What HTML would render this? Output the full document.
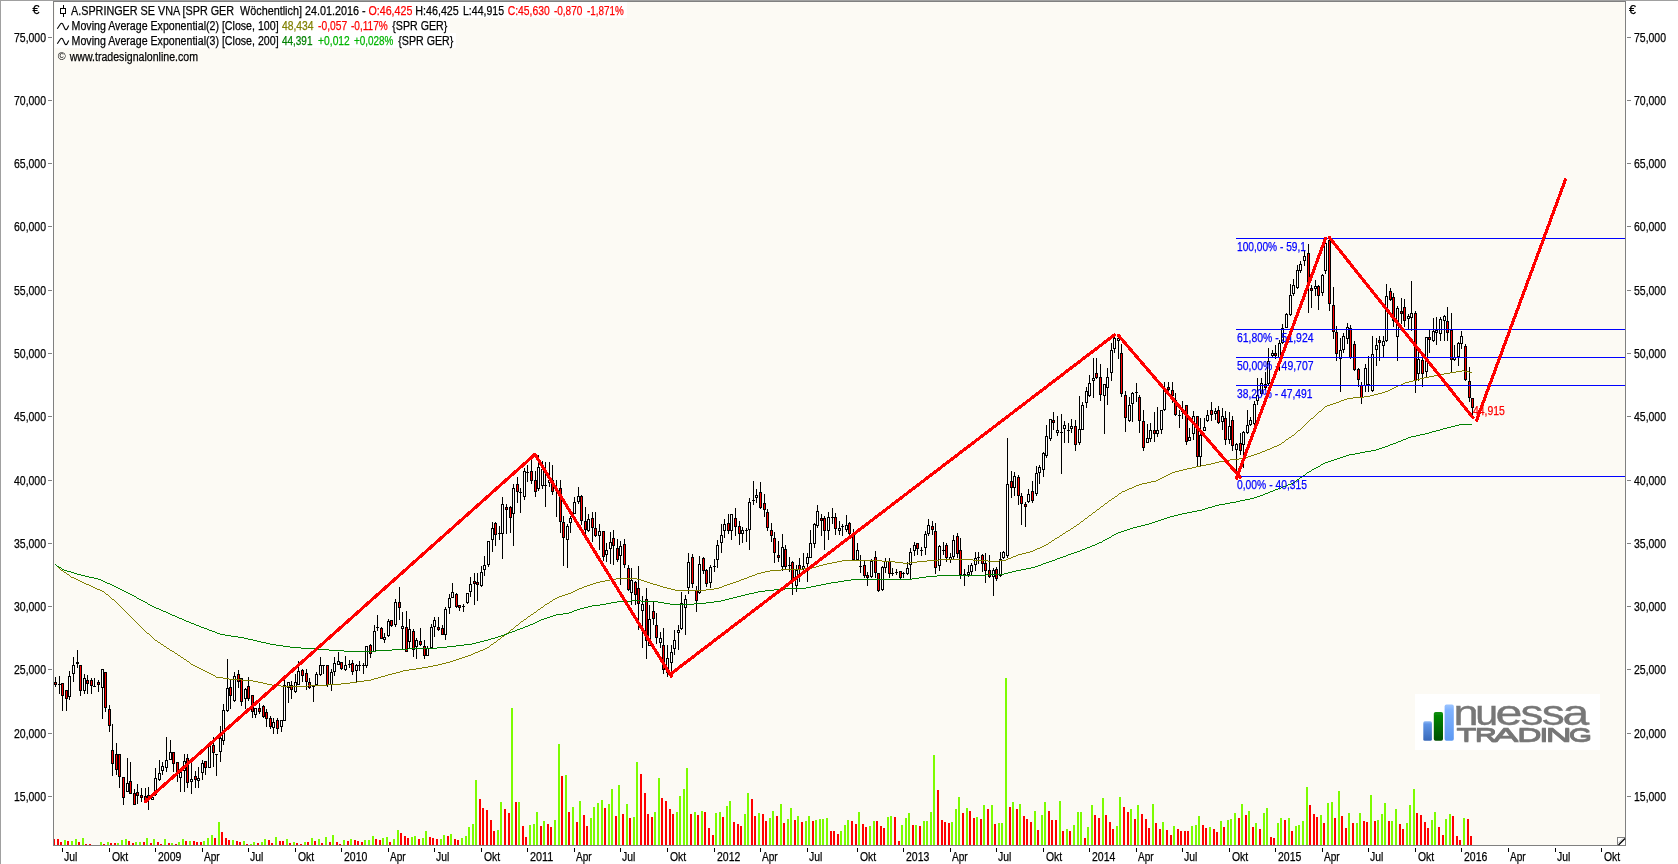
<!DOCTYPE html><html><head><meta charset="utf-8"><title>A.SPRINGER SE VNA</title>
<style>html,body{margin:0;padding:0;background:#fff;}body{width:1678px;height:864px;overflow:hidden;}svg{display:block;}text{font-family:"Liberation Sans",sans-serif;opacity:0.999;}</style></head><body>
<svg width="1678" height="864" viewBox="0 0 1678 864">
<defs>
<linearGradient id="gb1" x1="0" y1="0" x2="0" y2="1"><stop offset="0" stop-color="#8db8f5"/><stop offset="0.15" stop-color="#5f94e6"/><stop offset="1" stop-color="#3768b8"/></linearGradient>
<linearGradient id="gg" x1="0" y1="0" x2="0" y2="1"><stop offset="0" stop-color="#109010"/><stop offset="0.2" stop-color="#008000"/><stop offset="1" stop-color="#004f00"/></linearGradient>
<linearGradient id="gb2" x1="0" y1="0" x2="0" y2="1"><stop offset="0" stop-color="#9cc4ff"/><stop offset="0.15" stop-color="#7fb2ff"/><stop offset="1" stop-color="#5c98f2"/></linearGradient>
<filter id="bl" x="-5%" y="-10%" width="110%" height="120%"><feGaussianBlur stdDeviation="0.45"/></filter>
<clipPath id="pc"><rect x="54" y="2" width="1571" height="843"/></clipPath>
</defs>
<rect x="0" y="0" width="1678" height="864" fill="#ffffff"/>
<g shape-rendering="crispEdges">
<rect x="0" y="0" width="1678" height="1" fill="#a0a0a0"/>
<rect x="0" y="0" width="1" height="864" fill="#a0a0a0"/>
<rect x="53" y="1" width="1573" height="845" fill="#808080"/>
<rect x="54" y="2" width="1571" height="843" fill="#fcfaf4"/>
<rect x="55" y="2" width="572" height="16" fill="#fff"/>
<rect x="55" y="18" width="395" height="15" fill="#fff"/>
<rect x="55" y="33" width="401" height="15" fill="#fff"/>
<rect x="1617" y="837" width="9" height="9" fill="#808080"/><rect x="1618" y="838" width="7" height="7" fill="#fff"/>
</g>
<path d="M1618.5 845 L1625 838.5" stroke="#000" stroke-width="1.2" fill="none"/>
<path d="M1618.5 843 L1623 838.5" stroke="#b0b0b0" stroke-width="1" fill="none"/>
<g clip-path="url(#pc)">
<g shape-rendering="crispEdges">
<rect x="53" y="839" width="2" height="6" fill="#ff0000"/>
<rect x="57" y="839" width="2" height="6" fill="#ff0000"/>
<rect x="60" y="842" width="2" height="3" fill="#ff0000"/>
<rect x="64" y="840" width="2" height="5" fill="#7cfc00"/>
<rect x="67" y="841" width="2" height="4" fill="#ff0000"/>
<rect x="71" y="841" width="2" height="4" fill="#7cfc00"/>
<rect x="75" y="839" width="2" height="6" fill="#7cfc00"/>
<rect x="78" y="842" width="2" height="3" fill="#ff0000"/>
<rect x="82" y="838" width="2" height="7" fill="#7cfc00"/>
<rect x="85" y="844" width="2" height="1" fill="#ff0000"/>
<rect x="89" y="844" width="2" height="1" fill="#ff0000"/>
<rect x="100" y="842" width="2" height="3" fill="#7cfc00"/>
<rect x="103" y="844" width="2" height="1" fill="#ff0000"/>
<rect x="107" y="842" width="2" height="3" fill="#7cfc00"/>
<rect x="110" y="843" width="2" height="2" fill="#ff0000"/>
<rect x="114" y="843" width="2" height="2" fill="#ff0000"/>
<rect x="117" y="843" width="2" height="2" fill="#7cfc00"/>
<rect x="121" y="840" width="2" height="5" fill="#7cfc00"/>
<rect x="125" y="839" width="2" height="6" fill="#7cfc00"/>
<rect x="128" y="841" width="2" height="4" fill="#ff0000"/>
<rect x="132" y="843" width="2" height="2" fill="#ff0000"/>
<rect x="135" y="842" width="2" height="3" fill="#7cfc00"/>
<rect x="139" y="842" width="2" height="3" fill="#7cfc00"/>
<rect x="143" y="842" width="2" height="3" fill="#ff0000"/>
<rect x="146" y="838" width="2" height="7" fill="#7cfc00"/>
<rect x="150" y="843" width="2" height="2" fill="#ff0000"/>
<rect x="153" y="839" width="2" height="6" fill="#7cfc00"/>
<rect x="157" y="842" width="2" height="3" fill="#ff0000"/>
<rect x="160" y="844" width="2" height="1" fill="#ff0000"/>
<rect x="164" y="839" width="2" height="6" fill="#7cfc00"/>
<rect x="168" y="843" width="2" height="2" fill="#ff0000"/>
<rect x="171" y="843" width="2" height="2" fill="#7cfc00"/>
<rect x="175" y="844" width="2" height="1" fill="#ff0000"/>
<rect x="178" y="842" width="2" height="3" fill="#7cfc00"/>
<rect x="182" y="839" width="2" height="6" fill="#7cfc00"/>
<rect x="185" y="841" width="2" height="4" fill="#ff0000"/>
<rect x="189" y="841" width="2" height="4" fill="#7cfc00"/>
<rect x="193" y="841" width="2" height="4" fill="#ff0000"/>
<rect x="196" y="842" width="2" height="3" fill="#ff0000"/>
<rect x="200" y="842" width="2" height="3" fill="#ff0000"/>
<rect x="203" y="841" width="2" height="4" fill="#7cfc00"/>
<rect x="207" y="838" width="2" height="7" fill="#7cfc00"/>
<rect x="211" y="835" width="2" height="10" fill="#7cfc00"/>
<rect x="214" y="838" width="2" height="7" fill="#ff0000"/>
<rect x="218" y="822" width="2" height="23" fill="#7cfc00"/>
<rect x="221" y="832" width="2" height="13" fill="#ff0000"/>
<rect x="225" y="838" width="2" height="7" fill="#ff0000"/>
<rect x="228" y="840" width="2" height="5" fill="#ff0000"/>
<rect x="232" y="840" width="2" height="5" fill="#7cfc00"/>
<rect x="236" y="841" width="2" height="4" fill="#ff0000"/>
<rect x="239" y="842" width="2" height="3" fill="#ff0000"/>
<rect x="243" y="841" width="2" height="4" fill="#7cfc00"/>
<rect x="246" y="844" width="2" height="1" fill="#ff0000"/>
<rect x="250" y="844" width="2" height="1" fill="#7cfc00"/>
<rect x="253" y="842" width="2" height="3" fill="#7cfc00"/>
<rect x="257" y="843" width="2" height="2" fill="#ff0000"/>
<rect x="261" y="842" width="2" height="3" fill="#7cfc00"/>
<rect x="264" y="839" width="2" height="6" fill="#7cfc00"/>
<rect x="268" y="840" width="2" height="5" fill="#ff0000"/>
<rect x="271" y="843" width="2" height="2" fill="#ff0000"/>
<rect x="275" y="837" width="2" height="8" fill="#7cfc00"/>
<rect x="279" y="841" width="2" height="4" fill="#ff0000"/>
<rect x="282" y="841" width="2" height="4" fill="#ff0000"/>
<rect x="286" y="839" width="2" height="6" fill="#7cfc00"/>
<rect x="289" y="843" width="2" height="2" fill="#ff0000"/>
<rect x="293" y="842" width="2" height="3" fill="#7cfc00"/>
<rect x="296" y="843" width="2" height="2" fill="#ff0000"/>
<rect x="300" y="844" width="2" height="1" fill="#ff0000"/>
<rect x="304" y="842" width="2" height="3" fill="#7cfc00"/>
<rect x="307" y="842" width="2" height="3" fill="#ff0000"/>
<rect x="311" y="838" width="2" height="7" fill="#7cfc00"/>
<rect x="314" y="841" width="2" height="4" fill="#ff0000"/>
<rect x="318" y="839" width="2" height="6" fill="#7cfc00"/>
<rect x="321" y="843" width="2" height="2" fill="#ff0000"/>
<rect x="325" y="837" width="2" height="8" fill="#7cfc00"/>
<rect x="329" y="842" width="2" height="3" fill="#ff0000"/>
<rect x="332" y="835" width="2" height="10" fill="#7cfc00"/>
<rect x="336" y="842" width="2" height="3" fill="#ff0000"/>
<rect x="339" y="844" width="2" height="1" fill="#ff0000"/>
<rect x="343" y="840" width="2" height="5" fill="#7cfc00"/>
<rect x="347" y="841" width="2" height="4" fill="#ff0000"/>
<rect x="350" y="839" width="2" height="6" fill="#7cfc00"/>
<rect x="354" y="840" width="2" height="5" fill="#ff0000"/>
<rect x="357" y="841" width="2" height="4" fill="#ff0000"/>
<rect x="361" y="842" width="2" height="3" fill="#ff0000"/>
<rect x="364" y="840" width="2" height="5" fill="#7cfc00"/>
<rect x="368" y="840" width="2" height="5" fill="#7cfc00"/>
<rect x="372" y="836" width="2" height="9" fill="#7cfc00"/>
<rect x="375" y="839" width="2" height="6" fill="#ff0000"/>
<rect x="379" y="840" width="2" height="5" fill="#ff0000"/>
<rect x="382" y="838" width="2" height="7" fill="#7cfc00"/>
<rect x="386" y="837" width="2" height="8" fill="#7cfc00"/>
<rect x="389" y="842" width="2" height="3" fill="#ff0000"/>
<rect x="393" y="839" width="2" height="6" fill="#7cfc00"/>
<rect x="397" y="830" width="2" height="15" fill="#7cfc00"/>
<rect x="400" y="833" width="2" height="12" fill="#ff0000"/>
<rect x="404" y="836" width="2" height="9" fill="#ff0000"/>
<rect x="407" y="838" width="2" height="7" fill="#ff0000"/>
<rect x="411" y="837" width="2" height="8" fill="#7cfc00"/>
<rect x="414" y="836" width="2" height="9" fill="#7cfc00"/>
<rect x="418" y="839" width="2" height="6" fill="#ff0000"/>
<rect x="422" y="838" width="2" height="7" fill="#7cfc00"/>
<rect x="425" y="831" width="2" height="14" fill="#7cfc00"/>
<rect x="429" y="837" width="2" height="8" fill="#ff0000"/>
<rect x="432" y="838" width="2" height="7" fill="#ff0000"/>
<rect x="436" y="839" width="2" height="6" fill="#ff0000"/>
<rect x="440" y="839" width="2" height="6" fill="#7cfc00"/>
<rect x="443" y="835" width="2" height="10" fill="#7cfc00"/>
<rect x="447" y="836" width="2" height="9" fill="#ff0000"/>
<rect x="450" y="834" width="2" height="11" fill="#7cfc00"/>
<rect x="454" y="839" width="2" height="6" fill="#ff0000"/>
<rect x="457" y="840" width="2" height="5" fill="#ff0000"/>
<rect x="461" y="838" width="2" height="7" fill="#7cfc00"/>
<rect x="465" y="836" width="2" height="9" fill="#7cfc00"/>
<rect x="468" y="827" width="2" height="18" fill="#7cfc00"/>
<rect x="472" y="824" width="2" height="21" fill="#7cfc00"/>
<rect x="475" y="780" width="2" height="65" fill="#7cfc00"/>
<rect x="479" y="799" width="2" height="46" fill="#ff0000"/>
<rect x="482" y="808" width="2" height="37" fill="#ff0000"/>
<rect x="486" y="810" width="2" height="35" fill="#ff0000"/>
<rect x="490" y="820" width="2" height="25" fill="#ff0000"/>
<rect x="493" y="831" width="2" height="14" fill="#ff0000"/>
<rect x="497" y="830" width="2" height="15" fill="#7cfc00"/>
<rect x="500" y="802" width="2" height="43" fill="#7cfc00"/>
<rect x="504" y="809" width="2" height="36" fill="#ff0000"/>
<rect x="508" y="813" width="2" height="32" fill="#ff0000"/>
<rect x="511" y="708" width="2" height="137" fill="#7cfc00"/>
<rect x="515" y="802" width="2" height="43" fill="#ff0000"/>
<rect x="518" y="802" width="2" height="43" fill="#7cfc00"/>
<rect x="522" y="826" width="2" height="19" fill="#ff0000"/>
<rect x="525" y="837" width="2" height="8" fill="#ff0000"/>
<rect x="529" y="825" width="2" height="20" fill="#7cfc00"/>
<rect x="533" y="824" width="2" height="21" fill="#7cfc00"/>
<rect x="536" y="812" width="2" height="33" fill="#7cfc00"/>
<rect x="540" y="826" width="2" height="19" fill="#ff0000"/>
<rect x="543" y="821" width="2" height="24" fill="#7cfc00"/>
<rect x="547" y="824" width="2" height="21" fill="#ff0000"/>
<rect x="550" y="827" width="2" height="18" fill="#ff0000"/>
<rect x="554" y="820" width="2" height="25" fill="#7cfc00"/>
<rect x="558" y="744" width="2" height="101" fill="#7cfc00"/>
<rect x="561" y="776" width="2" height="69" fill="#ff0000"/>
<rect x="565" y="775" width="2" height="70" fill="#7cfc00"/>
<rect x="568" y="812" width="2" height="33" fill="#ff0000"/>
<rect x="572" y="807" width="2" height="38" fill="#7cfc00"/>
<rect x="576" y="822" width="2" height="23" fill="#ff0000"/>
<rect x="579" y="801" width="2" height="44" fill="#7cfc00"/>
<rect x="583" y="815" width="2" height="30" fill="#ff0000"/>
<rect x="586" y="826" width="2" height="19" fill="#ff0000"/>
<rect x="590" y="818" width="2" height="27" fill="#7cfc00"/>
<rect x="593" y="807" width="2" height="38" fill="#7cfc00"/>
<rect x="597" y="803" width="2" height="42" fill="#7cfc00"/>
<rect x="601" y="800" width="2" height="45" fill="#7cfc00"/>
<rect x="604" y="808" width="2" height="37" fill="#ff0000"/>
<rect x="608" y="804" width="2" height="41" fill="#7cfc00"/>
<rect x="611" y="789" width="2" height="56" fill="#7cfc00"/>
<rect x="615" y="816" width="2" height="29" fill="#ff0000"/>
<rect x="618" y="785" width="2" height="60" fill="#7cfc00"/>
<rect x="622" y="814" width="2" height="31" fill="#ff0000"/>
<rect x="626" y="804" width="2" height="41" fill="#7cfc00"/>
<rect x="629" y="818" width="2" height="27" fill="#ff0000"/>
<rect x="633" y="817" width="2" height="28" fill="#7cfc00"/>
<rect x="636" y="762" width="2" height="83" fill="#7cfc00"/>
<rect x="640" y="774" width="2" height="71" fill="#ff0000"/>
<rect x="644" y="793" width="2" height="52" fill="#ff0000"/>
<rect x="647" y="814" width="2" height="31" fill="#ff0000"/>
<rect x="651" y="817" width="2" height="28" fill="#ff0000"/>
<rect x="654" y="812" width="2" height="33" fill="#7cfc00"/>
<rect x="658" y="778" width="2" height="67" fill="#7cfc00"/>
<rect x="661" y="798" width="2" height="47" fill="#ff0000"/>
<rect x="665" y="801" width="2" height="44" fill="#ff0000"/>
<rect x="669" y="809" width="2" height="36" fill="#ff0000"/>
<rect x="672" y="814" width="2" height="31" fill="#ff0000"/>
<rect x="676" y="812" width="2" height="33" fill="#7cfc00"/>
<rect x="679" y="796" width="2" height="49" fill="#7cfc00"/>
<rect x="683" y="789" width="2" height="56" fill="#7cfc00"/>
<rect x="686" y="768" width="2" height="77" fill="#7cfc00"/>
<rect x="690" y="814" width="2" height="31" fill="#ff0000"/>
<rect x="694" y="812" width="2" height="33" fill="#7cfc00"/>
<rect x="697" y="815" width="2" height="30" fill="#ff0000"/>
<rect x="701" y="811" width="2" height="34" fill="#7cfc00"/>
<rect x="704" y="812" width="2" height="33" fill="#ff0000"/>
<rect x="708" y="828" width="2" height="17" fill="#ff0000"/>
<rect x="712" y="835" width="2" height="10" fill="#ff0000"/>
<rect x="715" y="813" width="2" height="32" fill="#7cfc00"/>
<rect x="719" y="812" width="2" height="33" fill="#7cfc00"/>
<rect x="722" y="817" width="2" height="28" fill="#ff0000"/>
<rect x="726" y="806" width="2" height="39" fill="#7cfc00"/>
<rect x="729" y="801" width="2" height="44" fill="#7cfc00"/>
<rect x="733" y="822" width="2" height="23" fill="#ff0000"/>
<rect x="737" y="824" width="2" height="21" fill="#ff0000"/>
<rect x="740" y="826" width="2" height="19" fill="#ff0000"/>
<rect x="744" y="814" width="2" height="31" fill="#7cfc00"/>
<rect x="747" y="793" width="2" height="52" fill="#7cfc00"/>
<rect x="751" y="799" width="2" height="46" fill="#ff0000"/>
<rect x="754" y="816" width="2" height="29" fill="#ff0000"/>
<rect x="758" y="813" width="2" height="32" fill="#7cfc00"/>
<rect x="762" y="814" width="2" height="31" fill="#ff0000"/>
<rect x="765" y="821" width="2" height="24" fill="#ff0000"/>
<rect x="769" y="818" width="2" height="27" fill="#7cfc00"/>
<rect x="772" y="811" width="2" height="34" fill="#7cfc00"/>
<rect x="776" y="816" width="2" height="29" fill="#ff0000"/>
<rect x="780" y="804" width="2" height="41" fill="#7cfc00"/>
<rect x="783" y="823" width="2" height="22" fill="#ff0000"/>
<rect x="787" y="819" width="2" height="26" fill="#7cfc00"/>
<rect x="790" y="808" width="2" height="37" fill="#7cfc00"/>
<rect x="794" y="820" width="2" height="25" fill="#ff0000"/>
<rect x="797" y="816" width="2" height="29" fill="#7cfc00"/>
<rect x="801" y="822" width="2" height="23" fill="#ff0000"/>
<rect x="805" y="821" width="2" height="24" fill="#7cfc00"/>
<rect x="808" y="816" width="2" height="29" fill="#7cfc00"/>
<rect x="812" y="821" width="2" height="24" fill="#ff0000"/>
<rect x="815" y="820" width="2" height="25" fill="#7cfc00"/>
<rect x="819" y="819" width="2" height="26" fill="#7cfc00"/>
<rect x="822" y="819" width="2" height="26" fill="#7cfc00"/>
<rect x="826" y="818" width="2" height="27" fill="#7cfc00"/>
<rect x="830" y="831" width="2" height="14" fill="#ff0000"/>
<rect x="833" y="831" width="2" height="14" fill="#ff0000"/>
<rect x="837" y="834" width="2" height="11" fill="#ff0000"/>
<rect x="840" y="831" width="2" height="14" fill="#7cfc00"/>
<rect x="844" y="825" width="2" height="20" fill="#7cfc00"/>
<rect x="847" y="820" width="2" height="25" fill="#7cfc00"/>
<rect x="851" y="821" width="2" height="24" fill="#ff0000"/>
<rect x="855" y="824" width="2" height="21" fill="#ff0000"/>
<rect x="858" y="812" width="2" height="33" fill="#7cfc00"/>
<rect x="862" y="824" width="2" height="21" fill="#ff0000"/>
<rect x="865" y="827" width="2" height="18" fill="#ff0000"/>
<rect x="869" y="826" width="2" height="19" fill="#7cfc00"/>
<rect x="873" y="821" width="2" height="24" fill="#7cfc00"/>
<rect x="876" y="821" width="2" height="24" fill="#ff0000"/>
<rect x="880" y="826" width="2" height="19" fill="#ff0000"/>
<rect x="883" y="828" width="2" height="17" fill="#ff0000"/>
<rect x="887" y="817" width="2" height="28" fill="#7cfc00"/>
<rect x="890" y="816" width="2" height="29" fill="#7cfc00"/>
<rect x="894" y="817" width="2" height="28" fill="#ff0000"/>
<rect x="898" y="841" width="2" height="4" fill="#ff0000"/>
<rect x="901" y="825" width="2" height="20" fill="#7cfc00"/>
<rect x="905" y="818" width="2" height="27" fill="#7cfc00"/>
<rect x="908" y="813" width="2" height="32" fill="#7cfc00"/>
<rect x="912" y="825" width="2" height="20" fill="#ff0000"/>
<rect x="915" y="825" width="2" height="20" fill="#7cfc00"/>
<rect x="919" y="826" width="2" height="19" fill="#ff0000"/>
<rect x="923" y="821" width="2" height="24" fill="#7cfc00"/>
<rect x="926" y="821" width="2" height="24" fill="#7cfc00"/>
<rect x="930" y="812" width="2" height="33" fill="#7cfc00"/>
<rect x="933" y="755" width="2" height="90" fill="#7cfc00"/>
<rect x="937" y="790" width="2" height="55" fill="#ff0000"/>
<rect x="941" y="820" width="2" height="25" fill="#ff0000"/>
<rect x="944" y="822" width="2" height="23" fill="#ff0000"/>
<rect x="948" y="823" width="2" height="22" fill="#ff0000"/>
<rect x="951" y="822" width="2" height="23" fill="#7cfc00"/>
<rect x="955" y="809" width="2" height="36" fill="#7cfc00"/>
<rect x="958" y="797" width="2" height="48" fill="#7cfc00"/>
<rect x="962" y="813" width="2" height="32" fill="#ff0000"/>
<rect x="966" y="808" width="2" height="37" fill="#7cfc00"/>
<rect x="969" y="811" width="2" height="34" fill="#ff0000"/>
<rect x="973" y="818" width="2" height="27" fill="#ff0000"/>
<rect x="976" y="817" width="2" height="28" fill="#7cfc00"/>
<rect x="980" y="819" width="2" height="26" fill="#ff0000"/>
<rect x="983" y="805" width="2" height="40" fill="#7cfc00"/>
<rect x="987" y="809" width="2" height="36" fill="#ff0000"/>
<rect x="991" y="805" width="2" height="40" fill="#7cfc00"/>
<rect x="994" y="824" width="2" height="21" fill="#ff0000"/>
<rect x="998" y="823" width="2" height="22" fill="#7cfc00"/>
<rect x="1001" y="823" width="2" height="22" fill="#7cfc00"/>
<rect x="1005" y="678" width="2" height="167" fill="#7cfc00"/>
<rect x="1009" y="807" width="2" height="38" fill="#ff0000"/>
<rect x="1012" y="802" width="2" height="43" fill="#7cfc00"/>
<rect x="1016" y="809" width="2" height="36" fill="#ff0000"/>
<rect x="1019" y="804" width="2" height="41" fill="#7cfc00"/>
<rect x="1023" y="816" width="2" height="29" fill="#ff0000"/>
<rect x="1026" y="819" width="2" height="26" fill="#ff0000"/>
<rect x="1030" y="822" width="2" height="23" fill="#ff0000"/>
<rect x="1034" y="811" width="2" height="34" fill="#7cfc00"/>
<rect x="1037" y="830" width="2" height="15" fill="#ff0000"/>
<rect x="1041" y="815" width="2" height="30" fill="#7cfc00"/>
<rect x="1044" y="802" width="2" height="43" fill="#7cfc00"/>
<rect x="1048" y="811" width="2" height="34" fill="#ff0000"/>
<rect x="1051" y="820" width="2" height="25" fill="#ff0000"/>
<rect x="1055" y="820" width="2" height="25" fill="#ff0000"/>
<rect x="1059" y="801" width="2" height="44" fill="#7cfc00"/>
<rect x="1062" y="831" width="2" height="14" fill="#ff0000"/>
<rect x="1066" y="829" width="2" height="16" fill="#7cfc00"/>
<rect x="1069" y="831" width="2" height="14" fill="#ff0000"/>
<rect x="1073" y="825" width="2" height="20" fill="#7cfc00"/>
<rect x="1077" y="812" width="2" height="33" fill="#7cfc00"/>
<rect x="1080" y="812" width="2" height="33" fill="#7cfc00"/>
<rect x="1084" y="838" width="2" height="7" fill="#ff0000"/>
<rect x="1087" y="827" width="2" height="18" fill="#7cfc00"/>
<rect x="1091" y="805" width="2" height="40" fill="#7cfc00"/>
<rect x="1094" y="815" width="2" height="30" fill="#ff0000"/>
<rect x="1098" y="818" width="2" height="27" fill="#ff0000"/>
<rect x="1102" y="798" width="2" height="47" fill="#7cfc00"/>
<rect x="1105" y="815" width="2" height="30" fill="#ff0000"/>
<rect x="1109" y="822" width="2" height="23" fill="#ff0000"/>
<rect x="1112" y="829" width="2" height="16" fill="#ff0000"/>
<rect x="1116" y="826" width="2" height="19" fill="#7cfc00"/>
<rect x="1119" y="797" width="2" height="48" fill="#7cfc00"/>
<rect x="1123" y="807" width="2" height="38" fill="#ff0000"/>
<rect x="1127" y="812" width="2" height="33" fill="#ff0000"/>
<rect x="1130" y="809" width="2" height="36" fill="#7cfc00"/>
<rect x="1134" y="819" width="2" height="26" fill="#ff0000"/>
<rect x="1137" y="805" width="2" height="40" fill="#7cfc00"/>
<rect x="1141" y="814" width="2" height="31" fill="#ff0000"/>
<rect x="1145" y="819" width="2" height="26" fill="#ff0000"/>
<rect x="1148" y="828" width="2" height="17" fill="#ff0000"/>
<rect x="1152" y="804" width="2" height="41" fill="#7cfc00"/>
<rect x="1155" y="823" width="2" height="22" fill="#ff0000"/>
<rect x="1159" y="829" width="2" height="16" fill="#ff0000"/>
<rect x="1162" y="822" width="2" height="23" fill="#7cfc00"/>
<rect x="1166" y="830" width="2" height="15" fill="#ff0000"/>
<rect x="1170" y="835" width="2" height="10" fill="#ff0000"/>
<rect x="1173" y="826" width="2" height="19" fill="#7cfc00"/>
<rect x="1177" y="829" width="2" height="16" fill="#ff0000"/>
<rect x="1180" y="831" width="2" height="14" fill="#ff0000"/>
<rect x="1184" y="831" width="2" height="14" fill="#ff0000"/>
<rect x="1187" y="831" width="2" height="14" fill="#ff0000"/>
<rect x="1191" y="826" width="2" height="19" fill="#7cfc00"/>
<rect x="1195" y="825" width="2" height="20" fill="#7cfc00"/>
<rect x="1198" y="816" width="2" height="29" fill="#7cfc00"/>
<rect x="1202" y="825" width="2" height="20" fill="#ff0000"/>
<rect x="1205" y="828" width="2" height="17" fill="#ff0000"/>
<rect x="1209" y="827" width="2" height="18" fill="#7cfc00"/>
<rect x="1213" y="829" width="2" height="16" fill="#ff0000"/>
<rect x="1216" y="832" width="2" height="13" fill="#ff0000"/>
<rect x="1220" y="821" width="2" height="24" fill="#7cfc00"/>
<rect x="1223" y="827" width="2" height="18" fill="#ff0000"/>
<rect x="1227" y="820" width="2" height="25" fill="#7cfc00"/>
<rect x="1230" y="819" width="2" height="26" fill="#7cfc00"/>
<rect x="1234" y="813" width="2" height="32" fill="#7cfc00"/>
<rect x="1238" y="818" width="2" height="27" fill="#ff0000"/>
<rect x="1241" y="804" width="2" height="41" fill="#7cfc00"/>
<rect x="1245" y="815" width="2" height="30" fill="#ff0000"/>
<rect x="1248" y="811" width="2" height="34" fill="#7cfc00"/>
<rect x="1252" y="827" width="2" height="18" fill="#ff0000"/>
<rect x="1255" y="823" width="2" height="22" fill="#7cfc00"/>
<rect x="1259" y="829" width="2" height="16" fill="#ff0000"/>
<rect x="1263" y="813" width="2" height="32" fill="#7cfc00"/>
<rect x="1266" y="808" width="2" height="37" fill="#7cfc00"/>
<rect x="1270" y="837" width="2" height="8" fill="#ff0000"/>
<rect x="1273" y="838" width="2" height="7" fill="#ff0000"/>
<rect x="1277" y="823" width="2" height="22" fill="#7cfc00"/>
<rect x="1280" y="818" width="2" height="27" fill="#7cfc00"/>
<rect x="1284" y="820" width="2" height="25" fill="#ff0000"/>
<rect x="1288" y="818" width="2" height="27" fill="#7cfc00"/>
<rect x="1291" y="831" width="2" height="14" fill="#ff0000"/>
<rect x="1295" y="826" width="2" height="19" fill="#7cfc00"/>
<rect x="1298" y="825" width="2" height="20" fill="#7cfc00"/>
<rect x="1302" y="821" width="2" height="24" fill="#7cfc00"/>
<rect x="1306" y="787" width="2" height="58" fill="#7cfc00"/>
<rect x="1309" y="805" width="2" height="40" fill="#ff0000"/>
<rect x="1313" y="814" width="2" height="31" fill="#ff0000"/>
<rect x="1316" y="817" width="2" height="28" fill="#ff0000"/>
<rect x="1320" y="815" width="2" height="30" fill="#7cfc00"/>
<rect x="1323" y="823" width="2" height="22" fill="#ff0000"/>
<rect x="1327" y="803" width="2" height="42" fill="#7cfc00"/>
<rect x="1331" y="802" width="2" height="43" fill="#7cfc00"/>
<rect x="1334" y="818" width="2" height="27" fill="#ff0000"/>
<rect x="1338" y="791" width="2" height="54" fill="#7cfc00"/>
<rect x="1341" y="816" width="2" height="29" fill="#ff0000"/>
<rect x="1345" y="828" width="2" height="17" fill="#ff0000"/>
<rect x="1348" y="813" width="2" height="32" fill="#7cfc00"/>
<rect x="1352" y="823" width="2" height="22" fill="#ff0000"/>
<rect x="1356" y="823" width="2" height="22" fill="#7cfc00"/>
<rect x="1359" y="813" width="2" height="32" fill="#7cfc00"/>
<rect x="1363" y="821" width="2" height="24" fill="#ff0000"/>
<rect x="1366" y="822" width="2" height="23" fill="#ff0000"/>
<rect x="1370" y="795" width="2" height="50" fill="#7cfc00"/>
<rect x="1374" y="821" width="2" height="24" fill="#ff0000"/>
<rect x="1377" y="820" width="2" height="25" fill="#7cfc00"/>
<rect x="1381" y="814" width="2" height="31" fill="#7cfc00"/>
<rect x="1384" y="803" width="2" height="42" fill="#7cfc00"/>
<rect x="1388" y="821" width="2" height="24" fill="#ff0000"/>
<rect x="1391" y="821" width="2" height="24" fill="#7cfc00"/>
<rect x="1395" y="809" width="2" height="36" fill="#7cfc00"/>
<rect x="1399" y="824" width="2" height="21" fill="#ff0000"/>
<rect x="1402" y="829" width="2" height="16" fill="#ff0000"/>
<rect x="1406" y="823" width="2" height="22" fill="#7cfc00"/>
<rect x="1409" y="805" width="2" height="40" fill="#7cfc00"/>
<rect x="1413" y="789" width="2" height="56" fill="#7cfc00"/>
<rect x="1416" y="813" width="2" height="32" fill="#ff0000"/>
<rect x="1420" y="815" width="2" height="30" fill="#ff0000"/>
<rect x="1424" y="822" width="2" height="23" fill="#ff0000"/>
<rect x="1427" y="828" width="2" height="17" fill="#ff0000"/>
<rect x="1431" y="820" width="2" height="25" fill="#7cfc00"/>
<rect x="1434" y="812" width="2" height="33" fill="#7cfc00"/>
<rect x="1438" y="827" width="2" height="18" fill="#ff0000"/>
<rect x="1442" y="835" width="2" height="10" fill="#ff0000"/>
<rect x="1445" y="819" width="2" height="26" fill="#7cfc00"/>
<rect x="1449" y="814" width="2" height="31" fill="#7cfc00"/>
<rect x="1452" y="816" width="2" height="29" fill="#ff0000"/>
<rect x="1456" y="836" width="2" height="9" fill="#ff0000"/>
<rect x="1459" y="840" width="2" height="5" fill="#ff0000"/>
<rect x="1463" y="818" width="2" height="27" fill="#7cfc00"/>
<rect x="1467" y="819" width="2" height="26" fill="#ff0000"/>
<rect x="1470" y="836" width="2" height="9" fill="#ff0000"/>
<rect x="55" y="677" width="1" height="10" fill="#000"/>
<rect x="54" y="682" width="3" height="3" fill="#000"/>
<rect x="55" y="683" width="1" height="1" fill="#ff0000"/>
<rect x="59" y="676" width="1" height="18" fill="#000"/>
<rect x="58" y="684" width="3" height="1" fill="#000"/>
<rect x="62" y="683" width="1" height="28" fill="#000"/>
<rect x="61" y="683" width="3" height="13" fill="#000"/>
<rect x="62" y="684" width="1" height="11" fill="#ff0000"/>
<rect x="66" y="690" width="1" height="21" fill="#000"/>
<rect x="65" y="690" width="3" height="9" fill="#000"/>
<rect x="66" y="691" width="1" height="7" fill="#ff0000"/>
<rect x="69" y="671" width="1" height="29" fill="#000"/>
<rect x="68" y="676" width="3" height="21" fill="#000"/>
<rect x="69" y="677" width="1" height="19" fill="#ffffff"/>
<rect x="73" y="657" width="1" height="25" fill="#000"/>
<rect x="72" y="665" width="3" height="9" fill="#000"/>
<rect x="73" y="666" width="1" height="7" fill="#ffffff"/>
<rect x="77" y="650" width="1" height="18" fill="#000"/>
<rect x="76" y="662" width="3" height="2" fill="#000"/>
<rect x="80" y="665" width="1" height="31" fill="#000"/>
<rect x="79" y="665" width="3" height="26" fill="#000"/>
<rect x="80" y="666" width="1" height="24" fill="#ff0000"/>
<rect x="84" y="674" width="1" height="20" fill="#000"/>
<rect x="83" y="678" width="3" height="13" fill="#000"/>
<rect x="84" y="679" width="1" height="11" fill="#ffffff"/>
<rect x="87" y="675" width="1" height="19" fill="#000"/>
<rect x="86" y="680" width="3" height="4" fill="#000"/>
<rect x="87" y="681" width="1" height="2" fill="#ff0000"/>
<rect x="91" y="678" width="1" height="16" fill="#000"/>
<rect x="90" y="680" width="3" height="6" fill="#000"/>
<rect x="91" y="681" width="1" height="4" fill="#ff0000"/>
<rect x="94" y="678" width="1" height="9" fill="#000"/>
<rect x="93" y="686" width="3" height="1" fill="#000"/>
<rect x="98" y="680" width="1" height="12" fill="#000"/>
<rect x="97" y="682" width="3" height="3" fill="#000"/>
<rect x="98" y="683" width="1" height="1" fill="#ff0000"/>
<rect x="102" y="669" width="1" height="50" fill="#000"/>
<rect x="101" y="669" width="3" height="19" fill="#000"/>
<rect x="102" y="670" width="1" height="17" fill="#ffffff"/>
<rect x="105" y="672" width="1" height="40" fill="#000"/>
<rect x="104" y="672" width="3" height="36" fill="#000"/>
<rect x="105" y="673" width="1" height="34" fill="#ff0000"/>
<rect x="109" y="705" width="1" height="27" fill="#000"/>
<rect x="108" y="709" width="3" height="17" fill="#000"/>
<rect x="109" y="710" width="1" height="15" fill="#ff0000"/>
<rect x="112" y="724" width="1" height="52" fill="#000"/>
<rect x="111" y="750" width="3" height="14" fill="#000"/>
<rect x="112" y="751" width="1" height="12" fill="#ff0000"/>
<rect x="116" y="743" width="1" height="32" fill="#000"/>
<rect x="115" y="754" width="3" height="16" fill="#000"/>
<rect x="116" y="755" width="1" height="14" fill="#ff0000"/>
<rect x="119" y="754" width="1" height="34" fill="#000"/>
<rect x="118" y="754" width="3" height="23" fill="#000"/>
<rect x="119" y="755" width="1" height="21" fill="#ff0000"/>
<rect x="123" y="777" width="1" height="28" fill="#000"/>
<rect x="122" y="777" width="3" height="21" fill="#000"/>
<rect x="123" y="778" width="1" height="19" fill="#ff0000"/>
<rect x="127" y="758" width="1" height="34" fill="#000"/>
<rect x="126" y="783" width="3" height="9" fill="#000"/>
<rect x="127" y="784" width="1" height="7" fill="#ffffff"/>
<rect x="130" y="762" width="1" height="32" fill="#000"/>
<rect x="129" y="781" width="3" height="13" fill="#000"/>
<rect x="130" y="782" width="1" height="11" fill="#ff0000"/>
<rect x="134" y="789" width="1" height="16" fill="#000"/>
<rect x="133" y="793" width="3" height="12" fill="#000"/>
<rect x="134" y="794" width="1" height="10" fill="#ff0000"/>
<rect x="137" y="784" width="1" height="20" fill="#000"/>
<rect x="136" y="792" width="3" height="4" fill="#000"/>
<rect x="137" y="793" width="1" height="2" fill="#ff0000"/>
<rect x="141" y="788" width="1" height="14" fill="#000"/>
<rect x="140" y="795" width="3" height="3" fill="#000"/>
<rect x="141" y="796" width="1" height="1" fill="#ff0000"/>
<rect x="145" y="788" width="1" height="13" fill="#000"/>
<rect x="144" y="796" width="3" height="5" fill="#000"/>
<rect x="145" y="797" width="1" height="3" fill="#ff0000"/>
<rect x="148" y="787" width="1" height="23" fill="#000"/>
<rect x="147" y="795" width="3" height="4" fill="#000"/>
<rect x="148" y="796" width="1" height="2" fill="#ff0000"/>
<rect x="152" y="794" width="1" height="6" fill="#000"/>
<rect x="151" y="797" width="3" height="3" fill="#000"/>
<rect x="152" y="798" width="1" height="1" fill="#ffffff"/>
<rect x="155" y="768" width="1" height="28" fill="#000"/>
<rect x="154" y="778" width="3" height="17" fill="#000"/>
<rect x="155" y="779" width="1" height="15" fill="#ffffff"/>
<rect x="159" y="760" width="1" height="21" fill="#000"/>
<rect x="158" y="773" width="3" height="7" fill="#000"/>
<rect x="159" y="774" width="1" height="5" fill="#ffffff"/>
<rect x="162" y="762" width="1" height="13" fill="#000"/>
<rect x="161" y="766" width="3" height="5" fill="#000"/>
<rect x="162" y="767" width="1" height="3" fill="#ffffff"/>
<rect x="166" y="737" width="1" height="35" fill="#000"/>
<rect x="165" y="760" width="3" height="8" fill="#000"/>
<rect x="166" y="761" width="1" height="6" fill="#ffffff"/>
<rect x="170" y="740" width="1" height="20" fill="#000"/>
<rect x="169" y="752" width="3" height="8" fill="#000"/>
<rect x="170" y="753" width="1" height="6" fill="#ffffff"/>
<rect x="173" y="752" width="1" height="20" fill="#000"/>
<rect x="172" y="752" width="3" height="12" fill="#000"/>
<rect x="173" y="753" width="1" height="10" fill="#ff0000"/>
<rect x="177" y="762" width="1" height="20" fill="#000"/>
<rect x="176" y="762" width="3" height="10" fill="#000"/>
<rect x="177" y="763" width="1" height="8" fill="#ff0000"/>
<rect x="180" y="772" width="1" height="20" fill="#000"/>
<rect x="179" y="772" width="3" height="6" fill="#000"/>
<rect x="180" y="773" width="1" height="4" fill="#ffffff"/>
<rect x="184" y="754" width="1" height="38" fill="#000"/>
<rect x="183" y="761" width="3" height="10" fill="#000"/>
<rect x="184" y="762" width="1" height="8" fill="#ffffff"/>
<rect x="187" y="754" width="1" height="34" fill="#000"/>
<rect x="186" y="758" width="3" height="25" fill="#000"/>
<rect x="187" y="759" width="1" height="23" fill="#ff0000"/>
<rect x="191" y="762" width="1" height="32" fill="#000"/>
<rect x="190" y="779" width="3" height="3" fill="#000"/>
<rect x="191" y="780" width="1" height="1" fill="#ffffff"/>
<rect x="195" y="771" width="1" height="17" fill="#000"/>
<rect x="194" y="776" width="3" height="4" fill="#000"/>
<rect x="195" y="777" width="1" height="2" fill="#ff0000"/>
<rect x="198" y="767" width="1" height="21" fill="#000"/>
<rect x="197" y="778" width="3" height="3" fill="#000"/>
<rect x="198" y="779" width="1" height="1" fill="#ffffff"/>
<rect x="202" y="760" width="1" height="20" fill="#000"/>
<rect x="201" y="763" width="3" height="10" fill="#000"/>
<rect x="202" y="764" width="1" height="8" fill="#ffffff"/>
<rect x="205" y="761" width="1" height="14" fill="#000"/>
<rect x="204" y="761" width="3" height="7" fill="#000"/>
<rect x="205" y="762" width="1" height="5" fill="#ff0000"/>
<rect x="209" y="745" width="1" height="23" fill="#000"/>
<rect x="208" y="745" width="3" height="23" fill="#000"/>
<rect x="209" y="746" width="1" height="21" fill="#ffffff"/>
<rect x="213" y="737" width="1" height="30" fill="#000"/>
<rect x="212" y="745" width="3" height="8" fill="#000"/>
<rect x="213" y="746" width="1" height="6" fill="#ff0000"/>
<rect x="216" y="754" width="1" height="22" fill="#000"/>
<rect x="215" y="754" width="3" height="1" fill="#000"/>
<rect x="220" y="726" width="1" height="36" fill="#000"/>
<rect x="219" y="738" width="3" height="14" fill="#000"/>
<rect x="220" y="739" width="1" height="12" fill="#ffffff"/>
<rect x="223" y="704" width="1" height="41" fill="#000"/>
<rect x="222" y="710" width="3" height="31" fill="#000"/>
<rect x="223" y="711" width="1" height="29" fill="#ffffff"/>
<rect x="227" y="659" width="1" height="53" fill="#000"/>
<rect x="226" y="688" width="3" height="23" fill="#000"/>
<rect x="227" y="689" width="1" height="21" fill="#ffffff"/>
<rect x="230" y="680" width="1" height="29" fill="#000"/>
<rect x="229" y="687" width="3" height="9" fill="#000"/>
<rect x="230" y="688" width="1" height="7" fill="#ff0000"/>
<rect x="234" y="672" width="1" height="30" fill="#000"/>
<rect x="233" y="676" width="3" height="25" fill="#000"/>
<rect x="234" y="677" width="1" height="23" fill="#ffffff"/>
<rect x="238" y="670" width="1" height="18" fill="#000"/>
<rect x="237" y="674" width="3" height="8" fill="#000"/>
<rect x="238" y="675" width="1" height="6" fill="#ff0000"/>
<rect x="241" y="678" width="1" height="28" fill="#000"/>
<rect x="240" y="678" width="3" height="24" fill="#000"/>
<rect x="241" y="679" width="1" height="22" fill="#ff0000"/>
<rect x="245" y="688" width="1" height="21" fill="#000"/>
<rect x="244" y="689" width="3" height="10" fill="#000"/>
<rect x="245" y="690" width="1" height="8" fill="#ffffff"/>
<rect x="248" y="677" width="1" height="24" fill="#000"/>
<rect x="247" y="686" width="3" height="13" fill="#000"/>
<rect x="248" y="687" width="1" height="11" fill="#ff0000"/>
<rect x="252" y="695" width="1" height="23" fill="#000"/>
<rect x="251" y="695" width="3" height="17" fill="#000"/>
<rect x="252" y="696" width="1" height="15" fill="#ff0000"/>
<rect x="255" y="708" width="1" height="10" fill="#000"/>
<rect x="254" y="708" width="3" height="7" fill="#000"/>
<rect x="255" y="709" width="1" height="5" fill="#ffffff"/>
<rect x="259" y="703" width="1" height="11" fill="#000"/>
<rect x="258" y="708" width="3" height="4" fill="#000"/>
<rect x="259" y="709" width="1" height="2" fill="#ff0000"/>
<rect x="263" y="705" width="1" height="13" fill="#000"/>
<rect x="262" y="706" width="3" height="11" fill="#000"/>
<rect x="263" y="707" width="1" height="9" fill="#ff0000"/>
<rect x="266" y="709" width="1" height="18" fill="#000"/>
<rect x="265" y="712" width="3" height="7" fill="#000"/>
<rect x="266" y="713" width="1" height="5" fill="#ff0000"/>
<rect x="270" y="716" width="1" height="13" fill="#000"/>
<rect x="269" y="718" width="3" height="9" fill="#000"/>
<rect x="270" y="719" width="1" height="7" fill="#ff0000"/>
<rect x="273" y="718" width="1" height="16" fill="#000"/>
<rect x="272" y="722" width="3" height="6" fill="#000"/>
<rect x="273" y="723" width="1" height="4" fill="#ffffff"/>
<rect x="277" y="718" width="1" height="16" fill="#000"/>
<rect x="276" y="720" width="3" height="9" fill="#000"/>
<rect x="277" y="721" width="1" height="7" fill="#ff0000"/>
<rect x="281" y="720" width="1" height="12" fill="#000"/>
<rect x="280" y="720" width="3" height="7" fill="#000"/>
<rect x="281" y="721" width="1" height="5" fill="#ffffff"/>
<rect x="284" y="680" width="1" height="41" fill="#000"/>
<rect x="283" y="685" width="3" height="36" fill="#000"/>
<rect x="284" y="686" width="1" height="34" fill="#ffffff"/>
<rect x="288" y="682" width="1" height="21" fill="#000"/>
<rect x="287" y="682" width="3" height="6" fill="#000"/>
<rect x="288" y="683" width="1" height="4" fill="#ffffff"/>
<rect x="291" y="681" width="1" height="18" fill="#000"/>
<rect x="290" y="685" width="3" height="5" fill="#000"/>
<rect x="291" y="686" width="1" height="3" fill="#ff0000"/>
<rect x="295" y="674" width="1" height="19" fill="#000"/>
<rect x="294" y="682" width="3" height="10" fill="#000"/>
<rect x="295" y="683" width="1" height="8" fill="#ffffff"/>
<rect x="298" y="661" width="1" height="24" fill="#000"/>
<rect x="297" y="671" width="3" height="14" fill="#000"/>
<rect x="298" y="672" width="1" height="12" fill="#ffffff"/>
<rect x="302" y="669" width="1" height="13" fill="#000"/>
<rect x="301" y="670" width="3" height="6" fill="#000"/>
<rect x="302" y="671" width="1" height="4" fill="#ff0000"/>
<rect x="306" y="669" width="1" height="21" fill="#000"/>
<rect x="305" y="673" width="3" height="9" fill="#000"/>
<rect x="306" y="674" width="1" height="7" fill="#ff0000"/>
<rect x="309" y="678" width="1" height="11" fill="#000"/>
<rect x="308" y="682" width="3" height="6" fill="#000"/>
<rect x="309" y="683" width="1" height="4" fill="#ff0000"/>
<rect x="313" y="685" width="1" height="17" fill="#000"/>
<rect x="312" y="686" width="3" height="1" fill="#000"/>
<rect x="316" y="672" width="1" height="13" fill="#000"/>
<rect x="315" y="674" width="3" height="11" fill="#000"/>
<rect x="316" y="675" width="1" height="9" fill="#ffffff"/>
<rect x="320" y="657" width="1" height="19" fill="#000"/>
<rect x="319" y="665" width="3" height="10" fill="#000"/>
<rect x="320" y="666" width="1" height="8" fill="#ffffff"/>
<rect x="323" y="665" width="1" height="9" fill="#000"/>
<rect x="322" y="665" width="3" height="1" fill="#000"/>
<rect x="327" y="665" width="1" height="22" fill="#000"/>
<rect x="326" y="665" width="3" height="20" fill="#000"/>
<rect x="327" y="666" width="1" height="18" fill="#ff0000"/>
<rect x="331" y="669" width="1" height="22" fill="#000"/>
<rect x="330" y="672" width="3" height="13" fill="#000"/>
<rect x="331" y="673" width="1" height="11" fill="#ffffff"/>
<rect x="334" y="657" width="1" height="19" fill="#000"/>
<rect x="333" y="663" width="3" height="9" fill="#000"/>
<rect x="334" y="664" width="1" height="7" fill="#ffffff"/>
<rect x="338" y="652" width="1" height="13" fill="#000"/>
<rect x="337" y="661" width="3" height="4" fill="#000"/>
<rect x="338" y="662" width="1" height="2" fill="#ffffff"/>
<rect x="341" y="662" width="1" height="8" fill="#000"/>
<rect x="340" y="662" width="3" height="7" fill="#000"/>
<rect x="341" y="663" width="1" height="5" fill="#ff0000"/>
<rect x="345" y="656" width="1" height="15" fill="#000"/>
<rect x="344" y="665" width="3" height="5" fill="#000"/>
<rect x="345" y="666" width="1" height="3" fill="#ffffff"/>
<rect x="349" y="660" width="1" height="8" fill="#000"/>
<rect x="348" y="664" width="3" height="1" fill="#000"/>
<rect x="352" y="660" width="1" height="15" fill="#000"/>
<rect x="351" y="663" width="3" height="9" fill="#000"/>
<rect x="352" y="664" width="1" height="7" fill="#ff0000"/>
<rect x="356" y="664" width="1" height="18" fill="#000"/>
<rect x="355" y="665" width="3" height="6" fill="#000"/>
<rect x="356" y="666" width="1" height="4" fill="#ffffff"/>
<rect x="359" y="661" width="1" height="10" fill="#000"/>
<rect x="358" y="665" width="3" height="1" fill="#000"/>
<rect x="363" y="663" width="1" height="11" fill="#000"/>
<rect x="362" y="665" width="3" height="1" fill="#000"/>
<rect x="366" y="646" width="1" height="22" fill="#000"/>
<rect x="365" y="646" width="3" height="20" fill="#000"/>
<rect x="366" y="647" width="1" height="18" fill="#ffffff"/>
<rect x="370" y="644" width="1" height="14" fill="#000"/>
<rect x="369" y="645" width="3" height="9" fill="#000"/>
<rect x="370" y="646" width="1" height="7" fill="#ff0000"/>
<rect x="374" y="625" width="1" height="27" fill="#000"/>
<rect x="373" y="631" width="3" height="21" fill="#000"/>
<rect x="374" y="632" width="1" height="19" fill="#ffffff"/>
<rect x="377" y="615" width="1" height="16" fill="#000"/>
<rect x="376" y="627" width="3" height="1" fill="#000"/>
<rect x="381" y="627" width="1" height="12" fill="#000"/>
<rect x="380" y="628" width="3" height="11" fill="#000"/>
<rect x="381" y="629" width="1" height="9" fill="#ff0000"/>
<rect x="384" y="633" width="1" height="10" fill="#000"/>
<rect x="383" y="637" width="3" height="3" fill="#000"/>
<rect x="384" y="638" width="1" height="1" fill="#ffffff"/>
<rect x="388" y="619" width="1" height="18" fill="#000"/>
<rect x="387" y="621" width="3" height="15" fill="#000"/>
<rect x="388" y="622" width="1" height="13" fill="#ffffff"/>
<rect x="391" y="620" width="1" height="7" fill="#000"/>
<rect x="390" y="620" width="3" height="6" fill="#000"/>
<rect x="391" y="621" width="1" height="4" fill="#ff0000"/>
<rect x="395" y="599" width="1" height="28" fill="#000"/>
<rect x="394" y="602" width="3" height="23" fill="#000"/>
<rect x="395" y="603" width="1" height="21" fill="#ffffff"/>
<rect x="399" y="587" width="1" height="33" fill="#000"/>
<rect x="398" y="602" width="3" height="6" fill="#000"/>
<rect x="399" y="603" width="1" height="4" fill="#ff0000"/>
<rect x="402" y="612" width="1" height="37" fill="#000"/>
<rect x="401" y="626" width="3" height="3" fill="#000"/>
<rect x="402" y="627" width="1" height="1" fill="#ffffff"/>
<rect x="406" y="611" width="1" height="41" fill="#000"/>
<rect x="405" y="627" width="3" height="25" fill="#000"/>
<rect x="406" y="628" width="1" height="23" fill="#ff0000"/>
<rect x="409" y="619" width="1" height="29" fill="#000"/>
<rect x="408" y="629" width="3" height="13" fill="#000"/>
<rect x="409" y="630" width="1" height="11" fill="#ffffff"/>
<rect x="413" y="629" width="1" height="28" fill="#000"/>
<rect x="412" y="631" width="3" height="19" fill="#000"/>
<rect x="413" y="632" width="1" height="17" fill="#ff0000"/>
<rect x="416" y="638" width="1" height="21" fill="#000"/>
<rect x="415" y="640" width="3" height="7" fill="#000"/>
<rect x="416" y="641" width="1" height="5" fill="#ffffff"/>
<rect x="420" y="628" width="1" height="18" fill="#000"/>
<rect x="419" y="641" width="3" height="4" fill="#000"/>
<rect x="420" y="642" width="1" height="2" fill="#ff0000"/>
<rect x="424" y="640" width="1" height="19" fill="#000"/>
<rect x="423" y="646" width="3" height="10" fill="#000"/>
<rect x="424" y="647" width="1" height="8" fill="#ff0000"/>
<rect x="427" y="646" width="1" height="10" fill="#000"/>
<rect x="426" y="648" width="3" height="8" fill="#000"/>
<rect x="427" y="649" width="1" height="6" fill="#ffffff"/>
<rect x="431" y="624" width="1" height="24" fill="#000"/>
<rect x="430" y="627" width="3" height="21" fill="#000"/>
<rect x="431" y="628" width="1" height="19" fill="#ffffff"/>
<rect x="434" y="617" width="1" height="20" fill="#000"/>
<rect x="433" y="620" width="3" height="7" fill="#000"/>
<rect x="434" y="621" width="1" height="5" fill="#ffffff"/>
<rect x="438" y="617" width="1" height="14" fill="#000"/>
<rect x="437" y="627" width="3" height="3" fill="#000"/>
<rect x="438" y="628" width="1" height="1" fill="#ff0000"/>
<rect x="442" y="625" width="1" height="10" fill="#000"/>
<rect x="441" y="628" width="3" height="7" fill="#000"/>
<rect x="442" y="629" width="1" height="5" fill="#ff0000"/>
<rect x="445" y="607" width="1" height="33" fill="#000"/>
<rect x="444" y="609" width="3" height="26" fill="#000"/>
<rect x="445" y="610" width="1" height="24" fill="#ffffff"/>
<rect x="449" y="594" width="1" height="20" fill="#000"/>
<rect x="448" y="598" width="3" height="10" fill="#000"/>
<rect x="449" y="599" width="1" height="8" fill="#ffffff"/>
<rect x="452" y="583" width="1" height="15" fill="#000"/>
<rect x="451" y="592" width="3" height="6" fill="#000"/>
<rect x="452" y="593" width="1" height="4" fill="#ffffff"/>
<rect x="456" y="593" width="1" height="15" fill="#000"/>
<rect x="455" y="594" width="3" height="13" fill="#000"/>
<rect x="456" y="595" width="1" height="11" fill="#ff0000"/>
<rect x="459" y="605" width="1" height="6" fill="#000"/>
<rect x="458" y="605" width="3" height="3" fill="#000"/>
<rect x="459" y="606" width="1" height="1" fill="#ff0000"/>
<rect x="463" y="604" width="1" height="8" fill="#000"/>
<rect x="462" y="606" width="3" height="1" fill="#000"/>
<rect x="467" y="593" width="1" height="11" fill="#000"/>
<rect x="466" y="593" width="3" height="10" fill="#000"/>
<rect x="467" y="594" width="1" height="8" fill="#ffffff"/>
<rect x="470" y="577" width="1" height="20" fill="#000"/>
<rect x="469" y="584" width="3" height="8" fill="#000"/>
<rect x="470" y="585" width="1" height="6" fill="#ffffff"/>
<rect x="474" y="573" width="1" height="32" fill="#000"/>
<rect x="473" y="581" width="3" height="3" fill="#000"/>
<rect x="474" y="582" width="1" height="1" fill="#ff0000"/>
<rect x="477" y="573" width="1" height="28" fill="#000"/>
<rect x="476" y="582" width="3" height="3" fill="#000"/>
<rect x="477" y="583" width="1" height="1" fill="#ff0000"/>
<rect x="481" y="566" width="1" height="21" fill="#000"/>
<rect x="480" y="572" width="3" height="14" fill="#000"/>
<rect x="481" y="573" width="1" height="12" fill="#ffffff"/>
<rect x="484" y="556" width="1" height="20" fill="#000"/>
<rect x="483" y="565" width="3" height="5" fill="#000"/>
<rect x="484" y="566" width="1" height="3" fill="#ffffff"/>
<rect x="488" y="541" width="1" height="26" fill="#000"/>
<rect x="487" y="541" width="3" height="24" fill="#000"/>
<rect x="488" y="542" width="1" height="22" fill="#ffffff"/>
<rect x="492" y="522" width="1" height="30" fill="#000"/>
<rect x="491" y="528" width="3" height="12" fill="#000"/>
<rect x="492" y="529" width="1" height="10" fill="#ffffff"/>
<rect x="495" y="522" width="1" height="24" fill="#000"/>
<rect x="494" y="523" width="3" height="12" fill="#000"/>
<rect x="495" y="524" width="1" height="10" fill="#ff0000"/>
<rect x="499" y="526" width="1" height="14" fill="#000"/>
<rect x="498" y="533" width="3" height="1" fill="#000"/>
<rect x="502" y="497" width="1" height="62" fill="#000"/>
<rect x="501" y="504" width="3" height="30" fill="#000"/>
<rect x="502" y="505" width="1" height="28" fill="#ffffff"/>
<rect x="506" y="504" width="1" height="30" fill="#000"/>
<rect x="505" y="507" width="3" height="3" fill="#000"/>
<rect x="506" y="508" width="1" height="1" fill="#ff0000"/>
<rect x="510" y="506" width="1" height="27" fill="#000"/>
<rect x="509" y="507" width="3" height="11" fill="#000"/>
<rect x="510" y="508" width="1" height="9" fill="#ff0000"/>
<rect x="513" y="484" width="1" height="62" fill="#000"/>
<rect x="512" y="488" width="3" height="26" fill="#000"/>
<rect x="513" y="489" width="1" height="24" fill="#ffffff"/>
<rect x="517" y="477" width="1" height="26" fill="#000"/>
<rect x="516" y="484" width="3" height="8" fill="#000"/>
<rect x="517" y="485" width="1" height="6" fill="#ff0000"/>
<rect x="520" y="488" width="1" height="25" fill="#000"/>
<rect x="519" y="492" width="3" height="1" fill="#000"/>
<rect x="524" y="468" width="1" height="32" fill="#000"/>
<rect x="523" y="471" width="3" height="26" fill="#000"/>
<rect x="524" y="472" width="1" height="24" fill="#ffffff"/>
<rect x="527" y="465" width="1" height="17" fill="#000"/>
<rect x="526" y="472" width="3" height="1" fill="#000"/>
<rect x="531" y="459" width="1" height="25" fill="#000"/>
<rect x="530" y="471" width="3" height="10" fill="#000"/>
<rect x="531" y="472" width="1" height="8" fill="#ff0000"/>
<rect x="535" y="471" width="1" height="26" fill="#000"/>
<rect x="534" y="480" width="3" height="12" fill="#000"/>
<rect x="535" y="481" width="1" height="10" fill="#ff0000"/>
<rect x="538" y="455" width="1" height="36" fill="#000"/>
<rect x="537" y="467" width="3" height="22" fill="#000"/>
<rect x="538" y="468" width="1" height="20" fill="#ffffff"/>
<rect x="542" y="461" width="1" height="28" fill="#000"/>
<rect x="541" y="469" width="3" height="17" fill="#000"/>
<rect x="542" y="470" width="1" height="15" fill="#ffffff"/>
<rect x="545" y="462" width="1" height="45" fill="#000"/>
<rect x="544" y="485" width="3" height="1" fill="#000"/>
<rect x="549" y="462" width="1" height="25" fill="#000"/>
<rect x="548" y="480" width="3" height="3" fill="#000"/>
<rect x="549" y="481" width="1" height="1" fill="#ffffff"/>
<rect x="552" y="465" width="1" height="30" fill="#000"/>
<rect x="551" y="480" width="3" height="12" fill="#000"/>
<rect x="552" y="481" width="1" height="10" fill="#ff0000"/>
<rect x="556" y="480" width="1" height="37" fill="#000"/>
<rect x="555" y="490" width="3" height="1" fill="#000"/>
<rect x="560" y="480" width="1" height="53" fill="#000"/>
<rect x="559" y="488" width="3" height="34" fill="#000"/>
<rect x="560" y="489" width="1" height="32" fill="#ff0000"/>
<rect x="563" y="516" width="1" height="50" fill="#000"/>
<rect x="562" y="522" width="3" height="16" fill="#000"/>
<rect x="563" y="523" width="1" height="14" fill="#ff0000"/>
<rect x="567" y="524" width="1" height="44" fill="#000"/>
<rect x="566" y="526" width="3" height="14" fill="#000"/>
<rect x="567" y="527" width="1" height="12" fill="#ffffff"/>
<rect x="570" y="516" width="1" height="17" fill="#000"/>
<rect x="569" y="518" width="3" height="5" fill="#000"/>
<rect x="570" y="519" width="1" height="3" fill="#ffffff"/>
<rect x="574" y="497" width="1" height="17" fill="#000"/>
<rect x="573" y="502" width="3" height="12" fill="#000"/>
<rect x="574" y="503" width="1" height="10" fill="#ffffff"/>
<rect x="578" y="487" width="1" height="17" fill="#000"/>
<rect x="577" y="496" width="3" height="6" fill="#000"/>
<rect x="578" y="497" width="1" height="4" fill="#ffffff"/>
<rect x="581" y="495" width="1" height="30" fill="#000"/>
<rect x="580" y="496" width="3" height="25" fill="#000"/>
<rect x="581" y="497" width="1" height="23" fill="#ff0000"/>
<rect x="585" y="507" width="1" height="27" fill="#000"/>
<rect x="584" y="521" width="3" height="9" fill="#000"/>
<rect x="585" y="522" width="1" height="7" fill="#ff0000"/>
<rect x="588" y="514" width="1" height="18" fill="#000"/>
<rect x="587" y="519" width="3" height="12" fill="#000"/>
<rect x="588" y="520" width="1" height="10" fill="#ffffff"/>
<rect x="592" y="512" width="1" height="30" fill="#000"/>
<rect x="591" y="518" width="3" height="10" fill="#000"/>
<rect x="592" y="519" width="1" height="8" fill="#ff0000"/>
<rect x="595" y="512" width="1" height="25" fill="#000"/>
<rect x="594" y="528" width="3" height="8" fill="#000"/>
<rect x="595" y="529" width="1" height="6" fill="#ff0000"/>
<rect x="599" y="524" width="1" height="26" fill="#000"/>
<rect x="598" y="531" width="3" height="5" fill="#000"/>
<rect x="599" y="532" width="1" height="3" fill="#ffffff"/>
<rect x="603" y="531" width="1" height="30" fill="#000"/>
<rect x="602" y="531" width="3" height="26" fill="#000"/>
<rect x="603" y="532" width="1" height="24" fill="#ff0000"/>
<rect x="606" y="543" width="1" height="19" fill="#000"/>
<rect x="605" y="550" width="3" height="5" fill="#000"/>
<rect x="606" y="551" width="1" height="3" fill="#ffffff"/>
<rect x="610" y="532" width="1" height="32" fill="#000"/>
<rect x="609" y="542" width="3" height="7" fill="#000"/>
<rect x="610" y="543" width="1" height="5" fill="#ffffff"/>
<rect x="613" y="530" width="1" height="35" fill="#000"/>
<rect x="612" y="538" width="3" height="8" fill="#000"/>
<rect x="613" y="539" width="1" height="6" fill="#ff0000"/>
<rect x="617" y="539" width="1" height="23" fill="#000"/>
<rect x="616" y="548" width="3" height="12" fill="#000"/>
<rect x="617" y="549" width="1" height="10" fill="#ff0000"/>
<rect x="620" y="541" width="1" height="44" fill="#000"/>
<rect x="619" y="546" width="3" height="10" fill="#000"/>
<rect x="620" y="547" width="1" height="8" fill="#ffffff"/>
<rect x="624" y="539" width="1" height="29" fill="#000"/>
<rect x="623" y="544" width="3" height="21" fill="#000"/>
<rect x="624" y="545" width="1" height="19" fill="#ff0000"/>
<rect x="628" y="565" width="1" height="26" fill="#000"/>
<rect x="627" y="568" width="3" height="22" fill="#000"/>
<rect x="628" y="569" width="1" height="20" fill="#ff0000"/>
<rect x="631" y="568" width="1" height="37" fill="#000"/>
<rect x="630" y="580" width="3" height="13" fill="#000"/>
<rect x="631" y="581" width="1" height="11" fill="#ffffff"/>
<rect x="635" y="581" width="1" height="24" fill="#000"/>
<rect x="634" y="582" width="3" height="13" fill="#000"/>
<rect x="635" y="583" width="1" height="11" fill="#ff0000"/>
<rect x="638" y="566" width="1" height="64" fill="#000"/>
<rect x="637" y="588" width="3" height="16" fill="#000"/>
<rect x="638" y="589" width="1" height="14" fill="#ff0000"/>
<rect x="642" y="596" width="1" height="52" fill="#000"/>
<rect x="641" y="604" width="3" height="7" fill="#000"/>
<rect x="642" y="605" width="1" height="5" fill="#ffffff"/>
<rect x="646" y="588" width="1" height="71" fill="#000"/>
<rect x="645" y="599" width="3" height="42" fill="#000"/>
<rect x="646" y="600" width="1" height="40" fill="#ff0000"/>
<rect x="649" y="605" width="1" height="41" fill="#000"/>
<rect x="648" y="619" width="3" height="27" fill="#000"/>
<rect x="649" y="620" width="1" height="25" fill="#ffffff"/>
<rect x="653" y="602" width="1" height="23" fill="#000"/>
<rect x="652" y="611" width="3" height="8" fill="#000"/>
<rect x="653" y="612" width="1" height="6" fill="#ff0000"/>
<rect x="656" y="613" width="1" height="31" fill="#000"/>
<rect x="655" y="625" width="3" height="13" fill="#000"/>
<rect x="656" y="626" width="1" height="11" fill="#ff0000"/>
<rect x="660" y="632" width="1" height="16" fill="#000"/>
<rect x="659" y="638" width="3" height="5" fill="#000"/>
<rect x="660" y="639" width="1" height="3" fill="#ffffff"/>
<rect x="663" y="628" width="1" height="46" fill="#000"/>
<rect x="662" y="645" width="3" height="25" fill="#000"/>
<rect x="663" y="646" width="1" height="23" fill="#ff0000"/>
<rect x="667" y="645" width="1" height="32" fill="#000"/>
<rect x="666" y="658" width="3" height="15" fill="#000"/>
<rect x="667" y="659" width="1" height="13" fill="#ffffff"/>
<rect x="671" y="645" width="1" height="29" fill="#000"/>
<rect x="670" y="652" width="3" height="11" fill="#000"/>
<rect x="671" y="653" width="1" height="9" fill="#ffffff"/>
<rect x="674" y="630" width="1" height="25" fill="#000"/>
<rect x="673" y="640" width="3" height="9" fill="#000"/>
<rect x="674" y="641" width="1" height="7" fill="#ffffff"/>
<rect x="678" y="625" width="1" height="25" fill="#000"/>
<rect x="677" y="630" width="3" height="3" fill="#000"/>
<rect x="678" y="631" width="1" height="1" fill="#ffffff"/>
<rect x="681" y="592" width="1" height="38" fill="#000"/>
<rect x="680" y="603" width="3" height="26" fill="#000"/>
<rect x="681" y="604" width="1" height="24" fill="#ffffff"/>
<rect x="685" y="595" width="1" height="40" fill="#000"/>
<rect x="684" y="599" width="3" height="9" fill="#000"/>
<rect x="685" y="600" width="1" height="7" fill="#ffffff"/>
<rect x="688" y="553" width="1" height="41" fill="#000"/>
<rect x="687" y="562" width="3" height="26" fill="#000"/>
<rect x="688" y="563" width="1" height="24" fill="#ffffff"/>
<rect x="692" y="554" width="1" height="34" fill="#000"/>
<rect x="691" y="557" width="3" height="27" fill="#000"/>
<rect x="692" y="558" width="1" height="25" fill="#ff0000"/>
<rect x="696" y="586" width="1" height="26" fill="#000"/>
<rect x="695" y="590" width="3" height="11" fill="#000"/>
<rect x="696" y="591" width="1" height="9" fill="#ff0000"/>
<rect x="699" y="556" width="1" height="38" fill="#000"/>
<rect x="698" y="564" width="3" height="29" fill="#000"/>
<rect x="699" y="565" width="1" height="27" fill="#ffffff"/>
<rect x="703" y="557" width="1" height="17" fill="#000"/>
<rect x="702" y="558" width="3" height="13" fill="#000"/>
<rect x="703" y="559" width="1" height="11" fill="#ff0000"/>
<rect x="706" y="569" width="1" height="18" fill="#000"/>
<rect x="705" y="570" width="3" height="14" fill="#000"/>
<rect x="706" y="571" width="1" height="12" fill="#ff0000"/>
<rect x="710" y="565" width="1" height="23" fill="#000"/>
<rect x="709" y="567" width="3" height="16" fill="#000"/>
<rect x="710" y="568" width="1" height="14" fill="#ffffff"/>
<rect x="714" y="559" width="1" height="13" fill="#000"/>
<rect x="713" y="566" width="3" height="1" fill="#000"/>
<rect x="717" y="540" width="1" height="28" fill="#000"/>
<rect x="716" y="545" width="3" height="15" fill="#000"/>
<rect x="717" y="546" width="1" height="13" fill="#ffffff"/>
<rect x="721" y="524" width="1" height="29" fill="#000"/>
<rect x="720" y="535" width="3" height="8" fill="#000"/>
<rect x="721" y="536" width="1" height="6" fill="#ffffff"/>
<rect x="724" y="519" width="1" height="19" fill="#000"/>
<rect x="723" y="524" width="3" height="7" fill="#000"/>
<rect x="724" y="525" width="1" height="5" fill="#ffffff"/>
<rect x="728" y="514" width="1" height="20" fill="#000"/>
<rect x="727" y="523" width="3" height="8" fill="#000"/>
<rect x="728" y="524" width="1" height="6" fill="#ff0000"/>
<rect x="731" y="514" width="1" height="26" fill="#000"/>
<rect x="730" y="514" width="3" height="17" fill="#000"/>
<rect x="731" y="515" width="1" height="15" fill="#ffffff"/>
<rect x="735" y="508" width="1" height="28" fill="#000"/>
<rect x="734" y="518" width="3" height="9" fill="#000"/>
<rect x="735" y="519" width="1" height="7" fill="#ff0000"/>
<rect x="739" y="521" width="1" height="24" fill="#000"/>
<rect x="738" y="526" width="3" height="8" fill="#000"/>
<rect x="739" y="527" width="1" height="6" fill="#ff0000"/>
<rect x="742" y="527" width="1" height="16" fill="#000"/>
<rect x="741" y="530" width="3" height="4" fill="#000"/>
<rect x="742" y="531" width="1" height="2" fill="#ffffff"/>
<rect x="746" y="528" width="1" height="14" fill="#000"/>
<rect x="745" y="530" width="3" height="1" fill="#000"/>
<rect x="749" y="498" width="1" height="52" fill="#000"/>
<rect x="748" y="502" width="3" height="28" fill="#000"/>
<rect x="749" y="503" width="1" height="26" fill="#ffffff"/>
<rect x="753" y="481" width="1" height="24" fill="#000"/>
<rect x="752" y="500" width="3" height="1" fill="#000"/>
<rect x="756" y="489" width="1" height="14" fill="#000"/>
<rect x="755" y="495" width="3" height="3" fill="#000"/>
<rect x="756" y="496" width="1" height="1" fill="#ffffff"/>
<rect x="760" y="482" width="1" height="27" fill="#000"/>
<rect x="759" y="492" width="3" height="16" fill="#000"/>
<rect x="760" y="493" width="1" height="14" fill="#ff0000"/>
<rect x="764" y="494" width="1" height="23" fill="#000"/>
<rect x="763" y="503" width="3" height="7" fill="#000"/>
<rect x="764" y="504" width="1" height="5" fill="#ff0000"/>
<rect x="767" y="509" width="1" height="22" fill="#000"/>
<rect x="766" y="512" width="3" height="16" fill="#000"/>
<rect x="767" y="513" width="1" height="14" fill="#ff0000"/>
<rect x="771" y="523" width="1" height="19" fill="#000"/>
<rect x="770" y="530" width="3" height="6" fill="#000"/>
<rect x="771" y="531" width="1" height="4" fill="#ff0000"/>
<rect x="774" y="532" width="1" height="31" fill="#000"/>
<rect x="773" y="538" width="3" height="15" fill="#000"/>
<rect x="774" y="539" width="1" height="13" fill="#ff0000"/>
<rect x="778" y="541" width="1" height="21" fill="#000"/>
<rect x="777" y="555" width="3" height="3" fill="#000"/>
<rect x="778" y="556" width="1" height="1" fill="#ff0000"/>
<rect x="782" y="534" width="1" height="37" fill="#000"/>
<rect x="781" y="547" width="3" height="20" fill="#000"/>
<rect x="782" y="548" width="1" height="18" fill="#ffffff"/>
<rect x="785" y="545" width="1" height="25" fill="#000"/>
<rect x="784" y="549" width="3" height="18" fill="#000"/>
<rect x="785" y="550" width="1" height="16" fill="#ff0000"/>
<rect x="789" y="557" width="1" height="15" fill="#000"/>
<rect x="788" y="565" width="3" height="1" fill="#000"/>
<rect x="792" y="561" width="1" height="34" fill="#000"/>
<rect x="791" y="562" width="3" height="18" fill="#000"/>
<rect x="792" y="563" width="1" height="16" fill="#ff0000"/>
<rect x="796" y="565" width="1" height="27" fill="#000"/>
<rect x="795" y="570" width="3" height="16" fill="#000"/>
<rect x="796" y="571" width="1" height="14" fill="#ffffff"/>
<rect x="799" y="558" width="1" height="24" fill="#000"/>
<rect x="798" y="565" width="3" height="5" fill="#000"/>
<rect x="799" y="566" width="1" height="3" fill="#ff0000"/>
<rect x="803" y="553" width="1" height="19" fill="#000"/>
<rect x="802" y="566" width="3" height="3" fill="#000"/>
<rect x="803" y="567" width="1" height="1" fill="#ffffff"/>
<rect x="807" y="553" width="1" height="29" fill="#000"/>
<rect x="806" y="557" width="3" height="7" fill="#000"/>
<rect x="807" y="558" width="1" height="5" fill="#ffffff"/>
<rect x="810" y="530" width="1" height="28" fill="#000"/>
<rect x="809" y="543" width="3" height="15" fill="#000"/>
<rect x="810" y="544" width="1" height="13" fill="#ffffff"/>
<rect x="814" y="523" width="1" height="25" fill="#000"/>
<rect x="813" y="524" width="3" height="20" fill="#000"/>
<rect x="814" y="525" width="1" height="18" fill="#ffffff"/>
<rect x="817" y="505" width="1" height="23" fill="#000"/>
<rect x="816" y="511" width="3" height="15" fill="#000"/>
<rect x="817" y="512" width="1" height="13" fill="#ffffff"/>
<rect x="821" y="514" width="1" height="22" fill="#000"/>
<rect x="820" y="518" width="3" height="3" fill="#000"/>
<rect x="821" y="519" width="1" height="1" fill="#ff0000"/>
<rect x="824" y="516" width="1" height="34" fill="#000"/>
<rect x="823" y="518" width="3" height="13" fill="#000"/>
<rect x="824" y="519" width="1" height="11" fill="#ff0000"/>
<rect x="828" y="512" width="1" height="28" fill="#000"/>
<rect x="827" y="517" width="3" height="14" fill="#000"/>
<rect x="828" y="518" width="1" height="12" fill="#ffffff"/>
<rect x="832" y="508" width="1" height="16" fill="#000"/>
<rect x="831" y="517" width="3" height="1" fill="#000"/>
<rect x="835" y="513" width="1" height="22" fill="#000"/>
<rect x="834" y="517" width="3" height="12" fill="#000"/>
<rect x="835" y="518" width="1" height="10" fill="#ff0000"/>
<rect x="839" y="521" width="1" height="14" fill="#000"/>
<rect x="838" y="528" width="3" height="3" fill="#000"/>
<rect x="839" y="529" width="1" height="1" fill="#ffffff"/>
<rect x="842" y="524" width="1" height="12" fill="#000"/>
<rect x="841" y="526" width="3" height="1" fill="#000"/>
<rect x="846" y="515" width="1" height="17" fill="#000"/>
<rect x="845" y="525" width="3" height="5" fill="#000"/>
<rect x="846" y="526" width="1" height="3" fill="#ffffff"/>
<rect x="849" y="522" width="1" height="13" fill="#000"/>
<rect x="848" y="523" width="3" height="11" fill="#000"/>
<rect x="849" y="524" width="1" height="9" fill="#ff0000"/>
<rect x="853" y="529" width="1" height="31" fill="#000"/>
<rect x="852" y="534" width="3" height="26" fill="#000"/>
<rect x="853" y="535" width="1" height="24" fill="#ff0000"/>
<rect x="857" y="543" width="1" height="18" fill="#000"/>
<rect x="856" y="550" width="3" height="10" fill="#000"/>
<rect x="857" y="551" width="1" height="8" fill="#ffffff"/>
<rect x="860" y="555" width="1" height="18" fill="#000"/>
<rect x="859" y="566" width="3" height="1" fill="#000"/>
<rect x="864" y="561" width="1" height="17" fill="#000"/>
<rect x="863" y="565" width="3" height="11" fill="#000"/>
<rect x="864" y="566" width="1" height="9" fill="#ff0000"/>
<rect x="867" y="572" width="1" height="14" fill="#000"/>
<rect x="866" y="575" width="3" height="3" fill="#000"/>
<rect x="867" y="576" width="1" height="1" fill="#ff0000"/>
<rect x="871" y="559" width="1" height="19" fill="#000"/>
<rect x="870" y="561" width="3" height="16" fill="#000"/>
<rect x="871" y="562" width="1" height="14" fill="#ffffff"/>
<rect x="875" y="551" width="1" height="27" fill="#000"/>
<rect x="874" y="557" width="3" height="16" fill="#000"/>
<rect x="875" y="558" width="1" height="14" fill="#ff0000"/>
<rect x="878" y="573" width="1" height="19" fill="#000"/>
<rect x="877" y="573" width="3" height="18" fill="#000"/>
<rect x="878" y="574" width="1" height="16" fill="#ff0000"/>
<rect x="882" y="566" width="1" height="25" fill="#000"/>
<rect x="881" y="567" width="3" height="23" fill="#000"/>
<rect x="882" y="568" width="1" height="21" fill="#ffffff"/>
<rect x="885" y="558" width="1" height="15" fill="#000"/>
<rect x="884" y="561" width="3" height="7" fill="#000"/>
<rect x="885" y="562" width="1" height="5" fill="#ffffff"/>
<rect x="889" y="558" width="1" height="20" fill="#000"/>
<rect x="888" y="561" width="3" height="13" fill="#000"/>
<rect x="889" y="562" width="1" height="11" fill="#ff0000"/>
<rect x="892" y="568" width="1" height="8" fill="#000"/>
<rect x="891" y="573" width="3" height="1" fill="#000"/>
<rect x="896" y="569" width="1" height="6" fill="#000"/>
<rect x="895" y="572" width="3" height="1" fill="#000"/>
<rect x="900" y="571" width="1" height="8" fill="#000"/>
<rect x="899" y="571" width="3" height="7" fill="#000"/>
<rect x="900" y="572" width="1" height="5" fill="#ff0000"/>
<rect x="903" y="572" width="1" height="6" fill="#000"/>
<rect x="902" y="573" width="3" height="1" fill="#000"/>
<rect x="907" y="562" width="1" height="13" fill="#000"/>
<rect x="906" y="568" width="3" height="6" fill="#000"/>
<rect x="907" y="569" width="1" height="4" fill="#ffffff"/>
<rect x="910" y="548" width="1" height="32" fill="#000"/>
<rect x="909" y="552" width="3" height="13" fill="#000"/>
<rect x="910" y="553" width="1" height="11" fill="#ffffff"/>
<rect x="914" y="542" width="1" height="14" fill="#000"/>
<rect x="913" y="545" width="3" height="6" fill="#000"/>
<rect x="914" y="546" width="1" height="4" fill="#ffffff"/>
<rect x="917" y="543" width="1" height="12" fill="#000"/>
<rect x="916" y="543" width="3" height="6" fill="#000"/>
<rect x="917" y="544" width="1" height="4" fill="#ff0000"/>
<rect x="921" y="547" width="1" height="9" fill="#000"/>
<rect x="920" y="550" width="3" height="1" fill="#000"/>
<rect x="925" y="531" width="1" height="24" fill="#000"/>
<rect x="924" y="534" width="3" height="14" fill="#000"/>
<rect x="925" y="535" width="1" height="12" fill="#ffffff"/>
<rect x="928" y="519" width="1" height="17" fill="#000"/>
<rect x="927" y="525" width="3" height="9" fill="#000"/>
<rect x="928" y="526" width="1" height="7" fill="#ffffff"/>
<rect x="932" y="521" width="1" height="14" fill="#000"/>
<rect x="931" y="526" width="3" height="4" fill="#000"/>
<rect x="932" y="527" width="1" height="2" fill="#ff0000"/>
<rect x="935" y="523" width="1" height="51" fill="#000"/>
<rect x="934" y="531" width="3" height="37" fill="#000"/>
<rect x="935" y="532" width="1" height="35" fill="#ff0000"/>
<rect x="939" y="545" width="1" height="26" fill="#000"/>
<rect x="938" y="546" width="3" height="20" fill="#000"/>
<rect x="939" y="547" width="1" height="18" fill="#ffffff"/>
<rect x="943" y="542" width="1" height="13" fill="#000"/>
<rect x="942" y="550" width="3" height="1" fill="#000"/>
<rect x="946" y="543" width="1" height="19" fill="#000"/>
<rect x="945" y="545" width="3" height="13" fill="#000"/>
<rect x="946" y="546" width="1" height="11" fill="#ff0000"/>
<rect x="950" y="553" width="1" height="10" fill="#000"/>
<rect x="949" y="557" width="3" height="3" fill="#000"/>
<rect x="950" y="558" width="1" height="1" fill="#ffffff"/>
<rect x="953" y="535" width="1" height="24" fill="#000"/>
<rect x="952" y="540" width="3" height="17" fill="#000"/>
<rect x="953" y="541" width="1" height="15" fill="#ffffff"/>
<rect x="957" y="533" width="1" height="25" fill="#000"/>
<rect x="956" y="536" width="3" height="18" fill="#000"/>
<rect x="957" y="537" width="1" height="16" fill="#ff0000"/>
<rect x="960" y="538" width="1" height="41" fill="#000"/>
<rect x="959" y="550" width="3" height="25" fill="#000"/>
<rect x="960" y="551" width="1" height="23" fill="#ff0000"/>
<rect x="964" y="569" width="1" height="17" fill="#000"/>
<rect x="963" y="574" width="3" height="1" fill="#000"/>
<rect x="968" y="565" width="1" height="12" fill="#000"/>
<rect x="967" y="572" width="3" height="3" fill="#000"/>
<rect x="968" y="573" width="1" height="1" fill="#ffffff"/>
<rect x="971" y="563" width="1" height="13" fill="#000"/>
<rect x="970" y="565" width="3" height="7" fill="#000"/>
<rect x="971" y="566" width="1" height="5" fill="#ffffff"/>
<rect x="975" y="552" width="1" height="19" fill="#000"/>
<rect x="974" y="558" width="3" height="7" fill="#000"/>
<rect x="975" y="559" width="1" height="5" fill="#ffffff"/>
<rect x="978" y="552" width="1" height="12" fill="#000"/>
<rect x="977" y="557" width="3" height="1" fill="#000"/>
<rect x="982" y="554" width="1" height="18" fill="#000"/>
<rect x="981" y="555" width="3" height="9" fill="#000"/>
<rect x="982" y="556" width="1" height="7" fill="#ff0000"/>
<rect x="985" y="553" width="1" height="30" fill="#000"/>
<rect x="984" y="563" width="3" height="8" fill="#000"/>
<rect x="985" y="564" width="1" height="6" fill="#ff0000"/>
<rect x="989" y="555" width="1" height="23" fill="#000"/>
<rect x="988" y="570" width="3" height="7" fill="#000"/>
<rect x="989" y="571" width="1" height="5" fill="#ff0000"/>
<rect x="993" y="568" width="1" height="28" fill="#000"/>
<rect x="992" y="570" width="3" height="7" fill="#000"/>
<rect x="993" y="571" width="1" height="5" fill="#ffffff"/>
<rect x="996" y="567" width="1" height="14" fill="#000"/>
<rect x="995" y="569" width="3" height="10" fill="#000"/>
<rect x="996" y="570" width="1" height="8" fill="#ff0000"/>
<rect x="1000" y="552" width="1" height="25" fill="#000"/>
<rect x="999" y="559" width="3" height="17" fill="#000"/>
<rect x="1000" y="560" width="1" height="15" fill="#ffffff"/>
<rect x="1003" y="551" width="1" height="8" fill="#000"/>
<rect x="1002" y="552" width="3" height="6" fill="#000"/>
<rect x="1003" y="553" width="1" height="4" fill="#ffffff"/>
<rect x="1007" y="438" width="1" height="120" fill="#000"/>
<rect x="1006" y="484" width="3" height="72" fill="#000"/>
<rect x="1007" y="485" width="1" height="70" fill="#ffffff"/>
<rect x="1011" y="471" width="1" height="27" fill="#000"/>
<rect x="1010" y="481" width="3" height="7" fill="#000"/>
<rect x="1011" y="482" width="1" height="5" fill="#ff0000"/>
<rect x="1014" y="472" width="1" height="24" fill="#000"/>
<rect x="1013" y="476" width="3" height="12" fill="#000"/>
<rect x="1014" y="477" width="1" height="10" fill="#ffffff"/>
<rect x="1018" y="475" width="1" height="30" fill="#000"/>
<rect x="1017" y="477" width="3" height="19" fill="#000"/>
<rect x="1018" y="478" width="1" height="17" fill="#ff0000"/>
<rect x="1021" y="493" width="1" height="32" fill="#000"/>
<rect x="1020" y="496" width="3" height="8" fill="#000"/>
<rect x="1021" y="497" width="1" height="6" fill="#ff0000"/>
<rect x="1025" y="502" width="1" height="25" fill="#000"/>
<rect x="1024" y="504" width="3" height="3" fill="#000"/>
<rect x="1025" y="505" width="1" height="1" fill="#ff0000"/>
<rect x="1028" y="489" width="1" height="14" fill="#000"/>
<rect x="1027" y="494" width="3" height="8" fill="#000"/>
<rect x="1028" y="495" width="1" height="6" fill="#ffffff"/>
<rect x="1032" y="481" width="1" height="22" fill="#000"/>
<rect x="1031" y="491" width="3" height="10" fill="#000"/>
<rect x="1032" y="492" width="1" height="8" fill="#ff0000"/>
<rect x="1036" y="466" width="1" height="30" fill="#000"/>
<rect x="1035" y="473" width="3" height="21" fill="#000"/>
<rect x="1036" y="474" width="1" height="19" fill="#ffffff"/>
<rect x="1039" y="465" width="1" height="19" fill="#000"/>
<rect x="1038" y="467" width="3" height="6" fill="#000"/>
<rect x="1039" y="468" width="1" height="4" fill="#ffffff"/>
<rect x="1043" y="452" width="1" height="25" fill="#000"/>
<rect x="1042" y="453" width="3" height="17" fill="#000"/>
<rect x="1043" y="454" width="1" height="15" fill="#ffffff"/>
<rect x="1046" y="425" width="1" height="33" fill="#000"/>
<rect x="1045" y="436" width="3" height="20" fill="#000"/>
<rect x="1046" y="437" width="1" height="18" fill="#ffffff"/>
<rect x="1050" y="419" width="1" height="22" fill="#000"/>
<rect x="1049" y="419" width="3" height="20" fill="#000"/>
<rect x="1050" y="420" width="1" height="18" fill="#ffffff"/>
<rect x="1053" y="412" width="1" height="18" fill="#000"/>
<rect x="1052" y="420" width="3" height="3" fill="#000"/>
<rect x="1053" y="421" width="1" height="1" fill="#ff0000"/>
<rect x="1057" y="416" width="1" height="20" fill="#000"/>
<rect x="1056" y="430" width="3" height="3" fill="#000"/>
<rect x="1057" y="431" width="1" height="1" fill="#ffffff"/>
<rect x="1061" y="414" width="1" height="60" fill="#000"/>
<rect x="1060" y="432" width="3" height="1" fill="#000"/>
<rect x="1064" y="421" width="1" height="22" fill="#000"/>
<rect x="1063" y="425" width="3" height="4" fill="#000"/>
<rect x="1064" y="426" width="1" height="2" fill="#ffffff"/>
<rect x="1068" y="423" width="1" height="20" fill="#000"/>
<rect x="1067" y="430" width="3" height="1" fill="#000"/>
<rect x="1071" y="419" width="1" height="14" fill="#000"/>
<rect x="1070" y="426" width="3" height="3" fill="#000"/>
<rect x="1071" y="427" width="1" height="1" fill="#ffffff"/>
<rect x="1075" y="420" width="1" height="31" fill="#000"/>
<rect x="1074" y="426" width="3" height="19" fill="#000"/>
<rect x="1075" y="427" width="1" height="17" fill="#ff0000"/>
<rect x="1079" y="396" width="1" height="49" fill="#000"/>
<rect x="1078" y="429" width="3" height="14" fill="#000"/>
<rect x="1079" y="430" width="1" height="12" fill="#ffffff"/>
<rect x="1082" y="402" width="1" height="28" fill="#000"/>
<rect x="1081" y="405" width="3" height="25" fill="#000"/>
<rect x="1082" y="406" width="1" height="23" fill="#ffffff"/>
<rect x="1086" y="387" width="1" height="21" fill="#000"/>
<rect x="1085" y="391" width="3" height="12" fill="#000"/>
<rect x="1086" y="392" width="1" height="10" fill="#ffffff"/>
<rect x="1089" y="375" width="1" height="22" fill="#000"/>
<rect x="1088" y="383" width="3" height="13" fill="#000"/>
<rect x="1089" y="384" width="1" height="11" fill="#ffffff"/>
<rect x="1093" y="358" width="1" height="40" fill="#000"/>
<rect x="1092" y="378" width="3" height="3" fill="#000"/>
<rect x="1093" y="379" width="1" height="1" fill="#ffffff"/>
<rect x="1096" y="358" width="1" height="21" fill="#000"/>
<rect x="1095" y="373" width="3" height="5" fill="#000"/>
<rect x="1096" y="374" width="1" height="3" fill="#ff0000"/>
<rect x="1100" y="364" width="1" height="37" fill="#000"/>
<rect x="1099" y="377" width="3" height="18" fill="#000"/>
<rect x="1100" y="378" width="1" height="16" fill="#ff0000"/>
<rect x="1104" y="384" width="1" height="50" fill="#000"/>
<rect x="1103" y="384" width="3" height="12" fill="#000"/>
<rect x="1104" y="385" width="1" height="10" fill="#ffffff"/>
<rect x="1107" y="368" width="1" height="37" fill="#000"/>
<rect x="1106" y="377" width="3" height="11" fill="#000"/>
<rect x="1107" y="378" width="1" height="9" fill="#ffffff"/>
<rect x="1111" y="343" width="1" height="38" fill="#000"/>
<rect x="1110" y="350" width="3" height="23" fill="#000"/>
<rect x="1111" y="351" width="1" height="21" fill="#ffffff"/>
<rect x="1114" y="337" width="1" height="16" fill="#000"/>
<rect x="1113" y="338" width="3" height="11" fill="#000"/>
<rect x="1114" y="339" width="1" height="9" fill="#ffffff"/>
<rect x="1118" y="338" width="1" height="21" fill="#000"/>
<rect x="1117" y="338" width="3" height="3" fill="#000"/>
<rect x="1118" y="339" width="1" height="1" fill="#ffffff"/>
<rect x="1121" y="344" width="1" height="53" fill="#000"/>
<rect x="1120" y="353" width="3" height="41" fill="#000"/>
<rect x="1121" y="354" width="1" height="39" fill="#ff0000"/>
<rect x="1125" y="391" width="1" height="41" fill="#000"/>
<rect x="1124" y="395" width="3" height="23" fill="#000"/>
<rect x="1125" y="396" width="1" height="21" fill="#ff0000"/>
<rect x="1129" y="397" width="1" height="25" fill="#000"/>
<rect x="1128" y="405" width="3" height="16" fill="#000"/>
<rect x="1129" y="406" width="1" height="14" fill="#ffffff"/>
<rect x="1132" y="392" width="1" height="30" fill="#000"/>
<rect x="1131" y="393" width="3" height="11" fill="#000"/>
<rect x="1132" y="394" width="1" height="9" fill="#ffffff"/>
<rect x="1136" y="383" width="1" height="19" fill="#000"/>
<rect x="1135" y="392" width="3" height="1" fill="#000"/>
<rect x="1139" y="395" width="1" height="38" fill="#000"/>
<rect x="1138" y="397" width="3" height="24" fill="#000"/>
<rect x="1139" y="398" width="1" height="22" fill="#ff0000"/>
<rect x="1143" y="410" width="1" height="41" fill="#000"/>
<rect x="1142" y="421" width="3" height="27" fill="#000"/>
<rect x="1143" y="422" width="1" height="25" fill="#ff0000"/>
<rect x="1147" y="424" width="1" height="19" fill="#000"/>
<rect x="1146" y="438" width="3" height="5" fill="#000"/>
<rect x="1147" y="439" width="1" height="3" fill="#ffffff"/>
<rect x="1150" y="423" width="1" height="19" fill="#000"/>
<rect x="1149" y="430" width="3" height="9" fill="#000"/>
<rect x="1150" y="431" width="1" height="7" fill="#ffffff"/>
<rect x="1154" y="412" width="1" height="30" fill="#000"/>
<rect x="1153" y="430" width="3" height="4" fill="#000"/>
<rect x="1154" y="431" width="1" height="2" fill="#ff0000"/>
<rect x="1157" y="407" width="1" height="30" fill="#000"/>
<rect x="1156" y="430" width="3" height="4" fill="#000"/>
<rect x="1157" y="431" width="1" height="2" fill="#ffffff"/>
<rect x="1161" y="410" width="1" height="24" fill="#000"/>
<rect x="1160" y="410" width="3" height="20" fill="#000"/>
<rect x="1161" y="411" width="1" height="18" fill="#ffffff"/>
<rect x="1164" y="382" width="1" height="29" fill="#000"/>
<rect x="1163" y="388" width="3" height="22" fill="#000"/>
<rect x="1164" y="389" width="1" height="20" fill="#ffffff"/>
<rect x="1168" y="382" width="1" height="14" fill="#000"/>
<rect x="1167" y="387" width="3" height="3" fill="#000"/>
<rect x="1168" y="388" width="1" height="1" fill="#ff0000"/>
<rect x="1172" y="382" width="1" height="21" fill="#000"/>
<rect x="1171" y="390" width="3" height="6" fill="#000"/>
<rect x="1172" y="391" width="1" height="4" fill="#ff0000"/>
<rect x="1175" y="393" width="1" height="23" fill="#000"/>
<rect x="1174" y="400" width="3" height="15" fill="#000"/>
<rect x="1175" y="401" width="1" height="13" fill="#ff0000"/>
<rect x="1179" y="410" width="1" height="18" fill="#000"/>
<rect x="1178" y="415" width="3" height="1" fill="#000"/>
<rect x="1182" y="401" width="1" height="18" fill="#000"/>
<rect x="1181" y="411" width="3" height="1" fill="#000"/>
<rect x="1186" y="405" width="1" height="40" fill="#000"/>
<rect x="1185" y="405" width="3" height="37" fill="#000"/>
<rect x="1186" y="406" width="1" height="35" fill="#ff0000"/>
<rect x="1189" y="428" width="1" height="13" fill="#000"/>
<rect x="1188" y="437" width="3" height="4" fill="#000"/>
<rect x="1189" y="438" width="1" height="2" fill="#ffffff"/>
<rect x="1193" y="411" width="1" height="29" fill="#000"/>
<rect x="1192" y="416" width="3" height="18" fill="#000"/>
<rect x="1193" y="417" width="1" height="16" fill="#ffffff"/>
<rect x="1197" y="416" width="1" height="51" fill="#000"/>
<rect x="1196" y="416" width="3" height="41" fill="#000"/>
<rect x="1197" y="417" width="1" height="39" fill="#ff0000"/>
<rect x="1200" y="418" width="1" height="49" fill="#000"/>
<rect x="1199" y="435" width="3" height="22" fill="#000"/>
<rect x="1200" y="436" width="1" height="20" fill="#ffffff"/>
<rect x="1204" y="418" width="1" height="13" fill="#000"/>
<rect x="1203" y="427" width="3" height="4" fill="#000"/>
<rect x="1204" y="428" width="1" height="2" fill="#ffffff"/>
<rect x="1207" y="410" width="1" height="12" fill="#000"/>
<rect x="1206" y="415" width="3" height="6" fill="#000"/>
<rect x="1207" y="416" width="1" height="4" fill="#ffffff"/>
<rect x="1211" y="402" width="1" height="19" fill="#000"/>
<rect x="1210" y="410" width="3" height="5" fill="#000"/>
<rect x="1211" y="411" width="1" height="3" fill="#ff0000"/>
<rect x="1215" y="408" width="1" height="12" fill="#000"/>
<rect x="1214" y="411" width="3" height="3" fill="#000"/>
<rect x="1215" y="412" width="1" height="1" fill="#ffffff"/>
<rect x="1218" y="406" width="1" height="18" fill="#000"/>
<rect x="1217" y="410" width="3" height="13" fill="#000"/>
<rect x="1218" y="411" width="1" height="11" fill="#ff0000"/>
<rect x="1222" y="408" width="1" height="22" fill="#000"/>
<rect x="1221" y="416" width="3" height="6" fill="#000"/>
<rect x="1222" y="417" width="1" height="4" fill="#ffffff"/>
<rect x="1225" y="411" width="1" height="34" fill="#000"/>
<rect x="1224" y="418" width="3" height="22" fill="#000"/>
<rect x="1225" y="419" width="1" height="20" fill="#ff0000"/>
<rect x="1229" y="412" width="1" height="32" fill="#000"/>
<rect x="1228" y="426" width="3" height="14" fill="#000"/>
<rect x="1229" y="427" width="1" height="12" fill="#ffffff"/>
<rect x="1232" y="416" width="1" height="35" fill="#000"/>
<rect x="1231" y="420" width="3" height="26" fill="#000"/>
<rect x="1232" y="421" width="1" height="24" fill="#ff0000"/>
<rect x="1236" y="443" width="1" height="33" fill="#000"/>
<rect x="1235" y="444" width="3" height="6" fill="#000"/>
<rect x="1236" y="445" width="1" height="4" fill="#ffffff"/>
<rect x="1240" y="433" width="1" height="22" fill="#000"/>
<rect x="1239" y="443" width="3" height="8" fill="#000"/>
<rect x="1240" y="444" width="1" height="6" fill="#ff0000"/>
<rect x="1243" y="431" width="1" height="37" fill="#000"/>
<rect x="1242" y="432" width="3" height="13" fill="#000"/>
<rect x="1243" y="433" width="1" height="11" fill="#ffffff"/>
<rect x="1247" y="410" width="1" height="24" fill="#000"/>
<rect x="1246" y="425" width="3" height="8" fill="#000"/>
<rect x="1247" y="426" width="1" height="6" fill="#ffffff"/>
<rect x="1250" y="417" width="1" height="9" fill="#000"/>
<rect x="1249" y="420" width="3" height="5" fill="#000"/>
<rect x="1250" y="421" width="1" height="3" fill="#ffffff"/>
<rect x="1254" y="401" width="1" height="24" fill="#000"/>
<rect x="1253" y="404" width="3" height="20" fill="#000"/>
<rect x="1254" y="405" width="1" height="18" fill="#ffffff"/>
<rect x="1257" y="378" width="1" height="27" fill="#000"/>
<rect x="1256" y="395" width="3" height="6" fill="#000"/>
<rect x="1257" y="396" width="1" height="4" fill="#ffffff"/>
<rect x="1261" y="378" width="1" height="18" fill="#000"/>
<rect x="1260" y="383" width="3" height="11" fill="#000"/>
<rect x="1261" y="384" width="1" height="9" fill="#ffffff"/>
<rect x="1265" y="372" width="1" height="18" fill="#000"/>
<rect x="1264" y="384" width="3" height="4" fill="#000"/>
<rect x="1265" y="385" width="1" height="2" fill="#ff0000"/>
<rect x="1268" y="348" width="1" height="37" fill="#000"/>
<rect x="1267" y="361" width="3" height="23" fill="#000"/>
<rect x="1268" y="362" width="1" height="21" fill="#ffffff"/>
<rect x="1272" y="350" width="1" height="7" fill="#000"/>
<rect x="1271" y="353" width="3" height="3" fill="#000"/>
<rect x="1272" y="354" width="1" height="1" fill="#ffffff"/>
<rect x="1275" y="345" width="1" height="14" fill="#000"/>
<rect x="1274" y="353" width="3" height="3" fill="#000"/>
<rect x="1275" y="354" width="1" height="1" fill="#ff0000"/>
<rect x="1279" y="340" width="1" height="31" fill="#000"/>
<rect x="1278" y="343" width="3" height="15" fill="#000"/>
<rect x="1279" y="344" width="1" height="13" fill="#ffffff"/>
<rect x="1282" y="324" width="1" height="20" fill="#000"/>
<rect x="1281" y="328" width="3" height="15" fill="#000"/>
<rect x="1282" y="329" width="1" height="13" fill="#ffffff"/>
<rect x="1286" y="313" width="1" height="15" fill="#000"/>
<rect x="1285" y="314" width="3" height="14" fill="#000"/>
<rect x="1286" y="315" width="1" height="12" fill="#ffffff"/>
<rect x="1290" y="284" width="1" height="32" fill="#000"/>
<rect x="1289" y="295" width="3" height="20" fill="#000"/>
<rect x="1290" y="296" width="1" height="18" fill="#ffffff"/>
<rect x="1293" y="279" width="1" height="17" fill="#000"/>
<rect x="1292" y="285" width="3" height="9" fill="#000"/>
<rect x="1293" y="286" width="1" height="7" fill="#ffffff"/>
<rect x="1297" y="265" width="1" height="24" fill="#000"/>
<rect x="1296" y="270" width="3" height="18" fill="#000"/>
<rect x="1297" y="271" width="1" height="16" fill="#ffffff"/>
<rect x="1300" y="261" width="1" height="12" fill="#000"/>
<rect x="1299" y="264" width="3" height="7" fill="#000"/>
<rect x="1300" y="265" width="1" height="5" fill="#ffffff"/>
<rect x="1304" y="251" width="1" height="15" fill="#000"/>
<rect x="1303" y="256" width="3" height="5" fill="#000"/>
<rect x="1304" y="257" width="1" height="3" fill="#ffffff"/>
<rect x="1308" y="244" width="1" height="69" fill="#000"/>
<rect x="1307" y="253" width="3" height="30" fill="#000"/>
<rect x="1308" y="254" width="1" height="28" fill="#ff0000"/>
<rect x="1311" y="285" width="1" height="23" fill="#000"/>
<rect x="1310" y="288" width="3" height="3" fill="#000"/>
<rect x="1311" y="289" width="1" height="1" fill="#ff0000"/>
<rect x="1315" y="280" width="1" height="16" fill="#000"/>
<rect x="1314" y="286" width="3" height="3" fill="#000"/>
<rect x="1315" y="287" width="1" height="1" fill="#ffffff"/>
<rect x="1318" y="285" width="1" height="25" fill="#000"/>
<rect x="1317" y="286" width="3" height="10" fill="#000"/>
<rect x="1318" y="287" width="1" height="8" fill="#ff0000"/>
<rect x="1322" y="274" width="1" height="22" fill="#000"/>
<rect x="1321" y="275" width="3" height="18" fill="#000"/>
<rect x="1322" y="276" width="1" height="16" fill="#ffffff"/>
<rect x="1325" y="238" width="1" height="36" fill="#000"/>
<rect x="1324" y="243" width="3" height="28" fill="#000"/>
<rect x="1325" y="244" width="1" height="26" fill="#ffffff"/>
<rect x="1329" y="238" width="1" height="73" fill="#000"/>
<rect x="1328" y="240" width="3" height="64" fill="#000"/>
<rect x="1329" y="241" width="1" height="62" fill="#ff0000"/>
<rect x="1333" y="287" width="1" height="52" fill="#000"/>
<rect x="1332" y="305" width="3" height="27" fill="#000"/>
<rect x="1333" y="306" width="1" height="25" fill="#ff0000"/>
<rect x="1336" y="326" width="1" height="35" fill="#000"/>
<rect x="1335" y="332" width="3" height="22" fill="#000"/>
<rect x="1336" y="333" width="1" height="20" fill="#ff0000"/>
<rect x="1340" y="338" width="1" height="54" fill="#000"/>
<rect x="1339" y="350" width="3" height="9" fill="#000"/>
<rect x="1340" y="351" width="1" height="7" fill="#ffffff"/>
<rect x="1343" y="333" width="1" height="20" fill="#000"/>
<rect x="1342" y="336" width="3" height="14" fill="#000"/>
<rect x="1343" y="337" width="1" height="12" fill="#ffffff"/>
<rect x="1347" y="323" width="1" height="21" fill="#000"/>
<rect x="1346" y="327" width="3" height="12" fill="#000"/>
<rect x="1347" y="328" width="1" height="10" fill="#ffffff"/>
<rect x="1350" y="325" width="1" height="34" fill="#000"/>
<rect x="1349" y="328" width="3" height="30" fill="#000"/>
<rect x="1350" y="329" width="1" height="28" fill="#ff0000"/>
<rect x="1354" y="341" width="1" height="30" fill="#000"/>
<rect x="1353" y="344" width="3" height="26" fill="#000"/>
<rect x="1354" y="345" width="1" height="24" fill="#ff0000"/>
<rect x="1358" y="368" width="1" height="19" fill="#000"/>
<rect x="1357" y="369" width="3" height="11" fill="#000"/>
<rect x="1358" y="370" width="1" height="9" fill="#ff0000"/>
<rect x="1361" y="382" width="1" height="22" fill="#000"/>
<rect x="1360" y="385" width="3" height="13" fill="#000"/>
<rect x="1361" y="386" width="1" height="11" fill="#ff0000"/>
<rect x="1365" y="364" width="1" height="28" fill="#000"/>
<rect x="1364" y="368" width="3" height="18" fill="#000"/>
<rect x="1365" y="369" width="1" height="16" fill="#ffffff"/>
<rect x="1368" y="356" width="1" height="36" fill="#000"/>
<rect x="1367" y="384" width="3" height="1" fill="#000"/>
<rect x="1372" y="336" width="1" height="56" fill="#000"/>
<rect x="1371" y="354" width="3" height="37" fill="#000"/>
<rect x="1372" y="355" width="1" height="35" fill="#ffffff"/>
<rect x="1376" y="338" width="1" height="28" fill="#000"/>
<rect x="1375" y="345" width="3" height="5" fill="#000"/>
<rect x="1376" y="346" width="1" height="3" fill="#ffffff"/>
<rect x="1379" y="336" width="1" height="25" fill="#000"/>
<rect x="1378" y="340" width="3" height="3" fill="#000"/>
<rect x="1379" y="341" width="1" height="1" fill="#ff0000"/>
<rect x="1383" y="336" width="1" height="21" fill="#000"/>
<rect x="1382" y="341" width="3" height="5" fill="#000"/>
<rect x="1383" y="342" width="1" height="3" fill="#ffffff"/>
<rect x="1386" y="284" width="1" height="58" fill="#000"/>
<rect x="1385" y="296" width="3" height="45" fill="#000"/>
<rect x="1386" y="297" width="1" height="43" fill="#ffffff"/>
<rect x="1390" y="288" width="1" height="13" fill="#000"/>
<rect x="1389" y="291" width="3" height="9" fill="#000"/>
<rect x="1390" y="292" width="1" height="7" fill="#ff0000"/>
<rect x="1393" y="293" width="1" height="34" fill="#000"/>
<rect x="1392" y="297" width="3" height="24" fill="#000"/>
<rect x="1393" y="298" width="1" height="22" fill="#ff0000"/>
<rect x="1397" y="306" width="1" height="55" fill="#000"/>
<rect x="1396" y="308" width="3" height="29" fill="#000"/>
<rect x="1397" y="309" width="1" height="27" fill="#ffffff"/>
<rect x="1401" y="298" width="1" height="26" fill="#000"/>
<rect x="1400" y="311" width="3" height="3" fill="#000"/>
<rect x="1401" y="312" width="1" height="1" fill="#ff0000"/>
<rect x="1404" y="299" width="1" height="28" fill="#000"/>
<rect x="1403" y="307" width="3" height="14" fill="#000"/>
<rect x="1404" y="308" width="1" height="12" fill="#ff0000"/>
<rect x="1408" y="314" width="1" height="15" fill="#000"/>
<rect x="1407" y="316" width="3" height="3" fill="#000"/>
<rect x="1408" y="317" width="1" height="1" fill="#ffffff"/>
<rect x="1411" y="281" width="1" height="50" fill="#000"/>
<rect x="1410" y="313" width="3" height="5" fill="#000"/>
<rect x="1411" y="314" width="1" height="3" fill="#ffffff"/>
<rect x="1415" y="311" width="1" height="82" fill="#000"/>
<rect x="1414" y="313" width="3" height="68" fill="#000"/>
<rect x="1415" y="314" width="1" height="66" fill="#ff0000"/>
<rect x="1418" y="348" width="1" height="33" fill="#000"/>
<rect x="1417" y="359" width="3" height="15" fill="#000"/>
<rect x="1418" y="360" width="1" height="13" fill="#ffffff"/>
<rect x="1422" y="357" width="1" height="30" fill="#000"/>
<rect x="1421" y="360" width="3" height="14" fill="#000"/>
<rect x="1422" y="361" width="1" height="12" fill="#ff0000"/>
<rect x="1426" y="337" width="1" height="41" fill="#000"/>
<rect x="1425" y="337" width="3" height="35" fill="#000"/>
<rect x="1426" y="338" width="1" height="33" fill="#ffffff"/>
<rect x="1429" y="330" width="1" height="23" fill="#000"/>
<rect x="1428" y="337" width="3" height="3" fill="#000"/>
<rect x="1429" y="338" width="1" height="1" fill="#ff0000"/>
<rect x="1433" y="318" width="1" height="24" fill="#000"/>
<rect x="1432" y="331" width="3" height="10" fill="#000"/>
<rect x="1433" y="332" width="1" height="8" fill="#ffffff"/>
<rect x="1436" y="317" width="1" height="28" fill="#000"/>
<rect x="1435" y="330" width="3" height="3" fill="#000"/>
<rect x="1436" y="331" width="1" height="1" fill="#ffffff"/>
<rect x="1440" y="317" width="1" height="24" fill="#000"/>
<rect x="1439" y="319" width="3" height="15" fill="#000"/>
<rect x="1440" y="320" width="1" height="13" fill="#ffffff"/>
<rect x="1444" y="315" width="1" height="26" fill="#000"/>
<rect x="1443" y="316" width="3" height="5" fill="#000"/>
<rect x="1444" y="317" width="1" height="3" fill="#ffffff"/>
<rect x="1447" y="307" width="1" height="34" fill="#000"/>
<rect x="1446" y="321" width="3" height="12" fill="#000"/>
<rect x="1447" y="322" width="1" height="10" fill="#ff0000"/>
<rect x="1451" y="313" width="1" height="60" fill="#000"/>
<rect x="1450" y="330" width="3" height="30" fill="#000"/>
<rect x="1451" y="331" width="1" height="28" fill="#ff0000"/>
<rect x="1454" y="345" width="1" height="16" fill="#000"/>
<rect x="1453" y="357" width="3" height="3" fill="#000"/>
<rect x="1454" y="358" width="1" height="1" fill="#ffffff"/>
<rect x="1458" y="342" width="1" height="24" fill="#000"/>
<rect x="1457" y="343" width="3" height="14" fill="#000"/>
<rect x="1458" y="344" width="1" height="12" fill="#ffffff"/>
<rect x="1461" y="331" width="1" height="18" fill="#000"/>
<rect x="1460" y="336" width="3" height="8" fill="#000"/>
<rect x="1461" y="337" width="1" height="6" fill="#ffffff"/>
<rect x="1465" y="344" width="1" height="37" fill="#000"/>
<rect x="1464" y="346" width="3" height="34" fill="#000"/>
<rect x="1465" y="347" width="1" height="32" fill="#ff0000"/>
<rect x="1469" y="367" width="1" height="35" fill="#000"/>
<rect x="1468" y="381" width="3" height="17" fill="#000"/>
<rect x="1469" y="382" width="1" height="15" fill="#ff0000"/>
<rect x="1472" y="398" width="1" height="17" fill="#000"/>
<rect x="1471" y="398" width="3" height="10" fill="#000"/>
<rect x="1472" y="399" width="1" height="8" fill="#ff0000"/>
</g>
<g fill="#808000" shape-rendering="crispEdges"><rect x="55" y="564" width="1" height="1"/><rect x="56" y="565" width="1" height="1"/><rect x="57" y="566" width="1" height="1"/><rect x="58" y="567" width="1" height="1"/><rect x="59" y="568" width="1" height="1"/><rect x="60" y="569" width="1" height="1"/><rect x="61" y="570" width="2" height="1"/><rect x="63" y="571" width="1" height="1"/><rect x="64" y="572" width="2" height="1"/><rect x="66" y="573" width="1" height="1"/><rect x="67" y="574" width="2" height="1"/><rect x="69" y="575" width="1" height="1"/><rect x="70" y="576" width="1" height="1"/><rect x="71" y="577" width="3" height="1"/><rect x="74" y="578" width="2" height="1"/><rect x="76" y="579" width="2" height="1"/><rect x="78" y="580" width="2" height="1"/><rect x="80" y="581" width="2" height="1"/><rect x="82" y="582" width="2" height="1"/><rect x="84" y="583" width="2" height="1"/><rect x="86" y="584" width="3" height="1"/><rect x="89" y="585" width="2" height="1"/><rect x="91" y="586" width="2" height="1"/><rect x="93" y="587" width="2" height="1"/><rect x="95" y="588" width="2" height="1"/><rect x="97" y="589" width="3" height="1"/><rect x="100" y="590" width="2" height="1"/><rect x="102" y="591" width="2" height="1"/><rect x="104" y="592" width="1" height="1"/><rect x="105" y="593" width="1" height="1"/><rect x="106" y="594" width="2" height="1"/><rect x="108" y="595" width="1" height="1"/><rect x="109" y="596" width="1" height="1"/><rect x="110" y="597" width="1" height="1"/><rect x="111" y="598" width="1" height="1"/><rect x="112" y="599" width="2" height="1"/><rect x="114" y="600" width="1" height="1"/><rect x="115" y="601" width="1" height="1"/><rect x="116" y="602" width="1" height="1"/><rect x="117" y="603" width="1" height="1"/><rect x="118" y="604" width="1" height="1"/><rect x="119" y="605" width="1" height="1"/><rect x="120" y="606" width="1" height="1"/><rect x="121" y="607" width="1" height="1"/><rect x="122" y="608" width="1" height="1"/><rect x="123" y="609" width="1" height="1"/><rect x="124" y="610" width="1" height="1"/><rect x="125" y="611" width="1" height="1"/><rect x="126" y="612" width="1" height="1"/><rect x="127" y="613" width="1" height="1"/><rect x="128" y="614" width="1" height="1"/><rect x="129" y="615" width="1" height="1"/><rect x="130" y="616" width="1" height="1"/><rect x="131" y="617" width="1" height="1"/><rect x="132" y="618" width="1" height="1"/><rect x="133" y="619" width="1" height="1"/><rect x="134" y="620" width="1" height="1"/><rect x="135" y="621" width="1" height="1"/><rect x="136" y="622" width="1" height="1"/><rect x="137" y="623" width="1" height="1"/><rect x="138" y="624" width="1" height="1"/><rect x="139" y="625" width="1" height="1"/><rect x="140" y="626" width="1" height="1"/><rect x="141" y="627" width="1" height="1"/><rect x="142" y="628" width="1" height="1"/><rect x="143" y="629" width="1" height="1"/><rect x="144" y="630" width="1" height="1"/><rect x="145" y="631" width="1" height="1"/><rect x="146" y="632" width="1" height="1"/><rect x="147" y="633" width="2" height="1"/><rect x="149" y="634" width="1" height="1"/><rect x="150" y="635" width="1" height="1"/><rect x="151" y="636" width="1" height="1"/><rect x="152" y="637" width="1" height="1"/><rect x="153" y="638" width="1" height="1"/><rect x="154" y="639" width="1" height="1"/><rect x="155" y="640" width="2" height="1"/><rect x="157" y="641" width="1" height="1"/><rect x="158" y="642" width="2" height="1"/><rect x="160" y="643" width="1" height="1"/><rect x="161" y="644" width="2" height="1"/><rect x="163" y="645" width="1" height="1"/><rect x="164" y="646" width="2" height="1"/><rect x="166" y="647" width="1" height="1"/><rect x="167" y="648" width="2" height="1"/><rect x="169" y="649" width="1" height="1"/><rect x="170" y="650" width="2" height="1"/><rect x="172" y="651" width="2" height="1"/><rect x="174" y="652" width="1" height="1"/><rect x="175" y="653" width="2" height="1"/><rect x="177" y="654" width="1" height="1"/><rect x="178" y="655" width="2" height="1"/><rect x="180" y="656" width="1" height="1"/><rect x="181" y="657" width="2" height="1"/><rect x="183" y="658" width="1" height="1"/><rect x="184" y="659" width="2" height="1"/><rect x="186" y="660" width="1" height="1"/><rect x="187" y="661" width="2" height="1"/><rect x="189" y="662" width="1" height="1"/><rect x="190" y="663" width="1" height="1"/><rect x="191" y="664" width="2" height="1"/><rect x="193" y="665" width="2" height="1"/><rect x="195" y="666" width="2" height="1"/><rect x="197" y="667" width="2" height="1"/><rect x="199" y="668" width="2" height="1"/><rect x="201" y="669" width="2" height="1"/><rect x="203" y="670" width="2" height="1"/><rect x="205" y="671" width="2" height="1"/><rect x="207" y="672" width="2" height="1"/><rect x="209" y="673" width="2" height="1"/><rect x="211" y="674" width="2" height="1"/><rect x="213" y="675" width="2" height="1"/><rect x="215" y="676" width="1" height="1"/><rect x="216" y="677" width="7" height="1"/><rect x="223" y="678" width="6" height="1"/><rect x="229" y="679" width="13" height="1"/><rect x="242" y="680" width="11" height="1"/><rect x="253" y="681" width="5" height="1"/><rect x="258" y="682" width="5" height="1"/><rect x="263" y="683" width="4" height="1"/><rect x="267" y="684" width="5" height="1"/><rect x="272" y="685" width="9" height="1"/><rect x="281" y="686" width="27" height="1"/><rect x="308" y="685" width="19" height="1"/><rect x="327" y="684" width="14" height="1"/><rect x="341" y="683" width="9" height="1"/><rect x="350" y="682" width="7" height="1"/><rect x="357" y="681" width="7" height="1"/><rect x="364" y="680" width="7" height="1"/><rect x="371" y="679" width="3" height="1"/><rect x="374" y="678" width="4" height="1"/><rect x="378" y="677" width="3" height="1"/><rect x="381" y="676" width="4" height="1"/><rect x="385" y="675" width="3" height="1"/><rect x="388" y="674" width="4" height="1"/><rect x="392" y="673" width="4" height="1"/><rect x="396" y="672" width="4" height="1"/><rect x="400" y="671" width="3" height="1"/><rect x="403" y="670" width="6" height="1"/><rect x="409" y="669" width="7" height="1"/><rect x="416" y="668" width="6" height="1"/><rect x="422" y="667" width="6" height="1"/><rect x="428" y="666" width="5" height="1"/><rect x="433" y="665" width="5" height="1"/><rect x="438" y="664" width="4" height="1"/><rect x="442" y="663" width="4" height="1"/><rect x="446" y="662" width="4" height="1"/><rect x="450" y="661" width="3" height="1"/><rect x="453" y="660" width="3" height="1"/><rect x="456" y="659" width="3" height="1"/><rect x="459" y="658" width="3" height="1"/><rect x="462" y="657" width="3" height="1"/><rect x="465" y="656" width="3" height="1"/><rect x="468" y="655" width="3" height="1"/><rect x="471" y="654" width="2" height="1"/><rect x="473" y="653" width="2" height="1"/><rect x="475" y="652" width="3" height="1"/><rect x="478" y="651" width="2" height="1"/><rect x="480" y="650" width="3" height="1"/><rect x="483" y="649" width="2" height="1"/><rect x="485" y="648" width="2" height="1"/><rect x="487" y="647" width="2" height="1"/><rect x="489" y="646" width="1" height="1"/><rect x="490" y="645" width="1" height="1"/><rect x="491" y="644" width="2" height="1"/><rect x="493" y="643" width="1" height="1"/><rect x="494" y="642" width="2" height="1"/><rect x="496" y="641" width="1" height="1"/><rect x="497" y="640" width="1" height="1"/><rect x="498" y="639" width="2" height="1"/><rect x="500" y="638" width="1" height="1"/><rect x="501" y="637" width="1" height="1"/><rect x="502" y="636" width="2" height="1"/><rect x="504" y="635" width="1" height="1"/><rect x="505" y="634" width="1" height="1"/><rect x="506" y="633" width="2" height="1"/><rect x="508" y="632" width="1" height="1"/><rect x="509" y="631" width="1" height="1"/><rect x="510" y="630" width="1" height="1"/><rect x="511" y="629" width="2" height="1"/><rect x="513" y="628" width="1" height="1"/><rect x="514" y="627" width="1" height="1"/><rect x="515" y="626" width="1" height="1"/><rect x="516" y="625" width="2" height="1"/><rect x="518" y="624" width="1" height="1"/><rect x="519" y="623" width="1" height="1"/><rect x="520" y="622" width="1" height="1"/><rect x="521" y="621" width="2" height="1"/><rect x="523" y="620" width="1" height="1"/><rect x="524" y="619" width="2" height="1"/><rect x="526" y="618" width="1" height="1"/><rect x="527" y="617" width="1" height="1"/><rect x="528" y="616" width="2" height="1"/><rect x="530" y="615" width="1" height="1"/><rect x="531" y="614" width="2" height="1"/><rect x="533" y="613" width="1" height="1"/><rect x="534" y="612" width="2" height="1"/><rect x="536" y="611" width="1" height="1"/><rect x="537" y="610" width="1" height="1"/><rect x="538" y="609" width="2" height="1"/><rect x="540" y="608" width="1" height="1"/><rect x="541" y="607" width="2" height="1"/><rect x="543" y="606" width="1" height="1"/><rect x="544" y="605" width="1" height="1"/><rect x="545" y="604" width="2" height="1"/><rect x="547" y="603" width="2" height="1"/><rect x="549" y="602" width="1" height="1"/><rect x="550" y="601" width="2" height="1"/><rect x="552" y="600" width="1" height="1"/><rect x="553" y="599" width="2" height="1"/><rect x="555" y="598" width="2" height="1"/><rect x="557" y="597" width="2" height="1"/><rect x="559" y="596" width="3" height="1"/><rect x="562" y="595" width="3" height="1"/><rect x="565" y="594" width="3" height="1"/><rect x="568" y="593" width="3" height="1"/><rect x="571" y="592" width="2" height="1"/><rect x="573" y="591" width="2" height="1"/><rect x="575" y="590" width="2" height="1"/><rect x="577" y="589" width="2" height="1"/><rect x="579" y="588" width="3" height="1"/><rect x="582" y="587" width="2" height="1"/><rect x="584" y="586" width="3" height="1"/><rect x="587" y="585" width="3" height="1"/><rect x="590" y="584" width="3" height="1"/><rect x="593" y="583" width="3" height="1"/><rect x="596" y="582" width="4" height="1"/><rect x="600" y="581" width="5" height="1"/><rect x="605" y="580" width="5" height="1"/><rect x="610" y="579" width="6" height="1"/><rect x="616" y="578" width="21" height="1"/><rect x="637" y="579" width="4" height="1"/><rect x="641" y="580" width="3" height="1"/><rect x="644" y="581" width="3" height="1"/><rect x="647" y="582" width="3" height="1"/><rect x="650" y="583" width="3" height="1"/><rect x="653" y="584" width="4" height="1"/><rect x="657" y="585" width="3" height="1"/><rect x="660" y="586" width="3" height="1"/><rect x="663" y="587" width="4" height="1"/><rect x="667" y="588" width="4" height="1"/><rect x="671" y="589" width="4" height="1"/><rect x="675" y="590" width="31" height="1"/><rect x="706" y="589" width="8" height="1"/><rect x="714" y="588" width="5" height="1"/><rect x="719" y="587" width="3" height="1"/><rect x="722" y="586" width="2" height="1"/><rect x="724" y="585" width="3" height="1"/><rect x="727" y="584" width="3" height="1"/><rect x="730" y="583" width="3" height="1"/><rect x="733" y="582" width="3" height="1"/><rect x="736" y="581" width="3" height="1"/><rect x="739" y="580" width="2" height="1"/><rect x="741" y="579" width="3" height="1"/><rect x="744" y="578" width="3" height="1"/><rect x="747" y="577" width="2" height="1"/><rect x="749" y="576" width="3" height="1"/><rect x="752" y="575" width="3" height="1"/><rect x="755" y="574" width="2" height="1"/><rect x="757" y="573" width="4" height="1"/><rect x="761" y="572" width="4" height="1"/><rect x="765" y="571" width="5" height="1"/><rect x="770" y="570" width="11" height="1"/><rect x="781" y="569" width="22" height="1"/><rect x="803" y="568" width="9" height="1"/><rect x="812" y="567" width="4" height="1"/><rect x="816" y="566" width="3" height="1"/><rect x="819" y="565" width="4" height="1"/><rect x="823" y="564" width="4" height="1"/><rect x="827" y="563" width="5" height="1"/><rect x="832" y="562" width="5" height="1"/><rect x="837" y="561" width="5" height="1"/><rect x="842" y="560" width="40" height="1"/><rect x="882" y="561" width="13" height="1"/><rect x="895" y="562" width="8" height="1"/><rect x="903" y="563" width="6" height="1"/><rect x="909" y="562" width="8" height="1"/><rect x="917" y="561" width="10" height="1"/><rect x="927" y="560" width="12" height="1"/><rect x="939" y="559" width="34" height="1"/><rect x="973" y="560" width="15" height="1"/><rect x="988" y="561" width="11" height="1"/><rect x="999" y="560" width="7" height="1"/><rect x="1006" y="559" width="2" height="1"/><rect x="1008" y="558" width="3" height="1"/><rect x="1011" y="557" width="2" height="1"/><rect x="1013" y="556" width="3" height="1"/><rect x="1016" y="555" width="2" height="1"/><rect x="1018" y="554" width="4" height="1"/><rect x="1022" y="553" width="4" height="1"/><rect x="1026" y="552" width="4" height="1"/><rect x="1030" y="551" width="3" height="1"/><rect x="1033" y="550" width="2" height="1"/><rect x="1035" y="549" width="2" height="1"/><rect x="1037" y="548" width="3" height="1"/><rect x="1040" y="547" width="2" height="1"/><rect x="1042" y="546" width="2" height="1"/><rect x="1044" y="545" width="2" height="1"/><rect x="1046" y="544" width="2" height="1"/><rect x="1048" y="543" width="1" height="1"/><rect x="1049" y="542" width="2" height="1"/><rect x="1051" y="541" width="1" height="1"/><rect x="1052" y="540" width="2" height="1"/><rect x="1054" y="539" width="1" height="1"/><rect x="1055" y="538" width="2" height="1"/><rect x="1057" y="537" width="2" height="1"/><rect x="1059" y="536" width="1" height="1"/><rect x="1060" y="535" width="2" height="1"/><rect x="1062" y="534" width="1" height="1"/><rect x="1063" y="533" width="2" height="1"/><rect x="1065" y="532" width="1" height="1"/><rect x="1066" y="531" width="2" height="1"/><rect x="1068" y="530" width="2" height="1"/><rect x="1070" y="529" width="1" height="1"/><rect x="1071" y="528" width="2" height="1"/><rect x="1073" y="527" width="1" height="1"/><rect x="1074" y="526" width="2" height="1"/><rect x="1076" y="525" width="1" height="1"/><rect x="1077" y="524" width="2" height="1"/><rect x="1079" y="523" width="1" height="1"/><rect x="1080" y="522" width="1" height="1"/><rect x="1081" y="521" width="2" height="1"/><rect x="1083" y="520" width="1" height="1"/><rect x="1084" y="519" width="1" height="1"/><rect x="1085" y="518" width="2" height="1"/><rect x="1087" y="517" width="1" height="1"/><rect x="1088" y="516" width="1" height="1"/><rect x="1089" y="515" width="2" height="1"/><rect x="1091" y="514" width="1" height="1"/><rect x="1092" y="513" width="1" height="1"/><rect x="1093" y="512" width="2" height="1"/><rect x="1095" y="511" width="1" height="1"/><rect x="1096" y="510" width="1" height="1"/><rect x="1097" y="509" width="2" height="1"/><rect x="1099" y="508" width="1" height="1"/><rect x="1100" y="507" width="1" height="1"/><rect x="1101" y="506" width="2" height="1"/><rect x="1103" y="505" width="1" height="1"/><rect x="1104" y="504" width="1" height="1"/><rect x="1105" y="503" width="2" height="1"/><rect x="1107" y="502" width="1" height="1"/><rect x="1108" y="501" width="1" height="1"/><rect x="1109" y="500" width="2" height="1"/><rect x="1111" y="499" width="1" height="1"/><rect x="1112" y="498" width="2" height="1"/><rect x="1114" y="497" width="1" height="1"/><rect x="1115" y="496" width="2" height="1"/><rect x="1117" y="495" width="1" height="1"/><rect x="1118" y="494" width="1" height="1"/><rect x="1119" y="493" width="2" height="1"/><rect x="1121" y="492" width="1" height="1"/><rect x="1122" y="491" width="3" height="1"/><rect x="1125" y="490" width="2" height="1"/><rect x="1127" y="489" width="2" height="1"/><rect x="1129" y="488" width="3" height="1"/><rect x="1132" y="487" width="2" height="1"/><rect x="1134" y="486" width="2" height="1"/><rect x="1136" y="485" width="3" height="1"/><rect x="1139" y="484" width="3" height="1"/><rect x="1142" y="483" width="5" height="1"/><rect x="1147" y="482" width="4" height="1"/><rect x="1151" y="481" width="5" height="1"/><rect x="1156" y="480" width="2" height="1"/><rect x="1158" y="479" width="2" height="1"/><rect x="1160" y="478" width="2" height="1"/><rect x="1162" y="477" width="2" height="1"/><rect x="1164" y="476" width="2" height="1"/><rect x="1166" y="475" width="2" height="1"/><rect x="1168" y="474" width="2" height="1"/><rect x="1170" y="473" width="2" height="1"/><rect x="1172" y="472" width="3" height="1"/><rect x="1175" y="471" width="4" height="1"/><rect x="1179" y="470" width="4" height="1"/><rect x="1183" y="469" width="4" height="1"/><rect x="1187" y="468" width="5" height="1"/><rect x="1192" y="467" width="4" height="1"/><rect x="1196" y="466" width="5" height="1"/><rect x="1201" y="465" width="5" height="1"/><rect x="1206" y="464" width="5" height="1"/><rect x="1211" y="463" width="4" height="1"/><rect x="1215" y="462" width="4" height="1"/><rect x="1219" y="461" width="5" height="1"/><rect x="1224" y="460" width="6" height="1"/><rect x="1230" y="459" width="9" height="1"/><rect x="1239" y="458" width="6" height="1"/><rect x="1245" y="457" width="3" height="1"/><rect x="1248" y="456" width="3" height="1"/><rect x="1251" y="455" width="3" height="1"/><rect x="1254" y="454" width="3" height="1"/><rect x="1257" y="453" width="3" height="1"/><rect x="1260" y="452" width="2" height="1"/><rect x="1262" y="451" width="3" height="1"/><rect x="1265" y="450" width="2" height="1"/><rect x="1267" y="449" width="3" height="1"/><rect x="1270" y="448" width="2" height="1"/><rect x="1272" y="447" width="2" height="1"/><rect x="1274" y="446" width="3" height="1"/><rect x="1277" y="445" width="2" height="1"/><rect x="1279" y="444" width="2" height="1"/><rect x="1281" y="443" width="1" height="1"/><rect x="1282" y="442" width="2" height="1"/><rect x="1284" y="441" width="1" height="1"/><rect x="1285" y="440" width="1" height="1"/><rect x="1286" y="439" width="2" height="1"/><rect x="1288" y="438" width="1" height="1"/><rect x="1289" y="437" width="2" height="1"/><rect x="1291" y="436" width="1" height="1"/><rect x="1292" y="435" width="2" height="1"/><rect x="1294" y="434" width="1" height="1"/><rect x="1295" y="433" width="1" height="1"/><rect x="1296" y="432" width="1" height="1"/><rect x="1297" y="431" width="1" height="1"/><rect x="1298" y="430" width="2" height="1"/><rect x="1300" y="429" width="1" height="1"/><rect x="1301" y="428" width="1" height="1"/><rect x="1302" y="427" width="1" height="1"/><rect x="1303" y="426" width="1" height="1"/><rect x="1304" y="425" width="1" height="1"/><rect x="1305" y="424" width="1" height="1"/><rect x="1306" y="423" width="1" height="1"/><rect x="1307" y="422" width="1" height="1"/><rect x="1308" y="421" width="1" height="1"/><rect x="1309" y="420" width="1" height="1"/><rect x="1310" y="419" width="1" height="1"/><rect x="1311" y="418" width="2" height="1"/><rect x="1313" y="417" width="1" height="1"/><rect x="1314" y="416" width="1" height="1"/><rect x="1315" y="415" width="1" height="1"/><rect x="1316" y="414" width="1" height="1"/><rect x="1317" y="413" width="1" height="1"/><rect x="1318" y="412" width="1" height="1"/><rect x="1319" y="411" width="2" height="1"/><rect x="1321" y="410" width="1" height="1"/><rect x="1322" y="409" width="1" height="1"/><rect x="1323" y="408" width="1" height="1"/><rect x="1324" y="407" width="1" height="1"/><rect x="1325" y="406" width="2" height="1"/><rect x="1327" y="405" width="3" height="1"/><rect x="1330" y="404" width="3" height="1"/><rect x="1333" y="403" width="3" height="1"/><rect x="1336" y="402" width="3" height="1"/><rect x="1339" y="401" width="2" height="1"/><rect x="1341" y="400" width="3" height="1"/><rect x="1344" y="399" width="3" height="1"/><rect x="1347" y="398" width="6" height="1"/><rect x="1353" y="397" width="11" height="1"/><rect x="1364" y="396" width="6" height="1"/><rect x="1370" y="395" width="4" height="1"/><rect x="1374" y="394" width="4" height="1"/><rect x="1378" y="393" width="4" height="1"/><rect x="1382" y="392" width="3" height="1"/><rect x="1385" y="391" width="3" height="1"/><rect x="1388" y="390" width="2" height="1"/><rect x="1390" y="389" width="2" height="1"/><rect x="1392" y="388" width="2" height="1"/><rect x="1394" y="387" width="2" height="1"/><rect x="1396" y="386" width="2" height="1"/><rect x="1398" y="385" width="3" height="1"/><rect x="1401" y="384" width="2" height="1"/><rect x="1403" y="383" width="2" height="1"/><rect x="1405" y="382" width="4" height="1"/><rect x="1409" y="381" width="4" height="1"/><rect x="1413" y="380" width="4" height="1"/><rect x="1417" y="379" width="3" height="1"/><rect x="1420" y="378" width="4" height="1"/><rect x="1424" y="377" width="5" height="1"/><rect x="1429" y="376" width="5" height="1"/><rect x="1434" y="375" width="5" height="1"/><rect x="1439" y="374" width="5" height="1"/><rect x="1444" y="373" width="6" height="1"/><rect x="1450" y="372" width="6" height="1"/><rect x="1456" y="371" width="6" height="1"/><rect x="1462" y="370" width="2" height="1"/><rect x="1464" y="371" width="5" height="1"/><rect x="1469" y="372" width="3" height="1"/></g>
<g fill="#008000" shape-rendering="crispEdges"><rect x="55" y="564" width="1" height="1"/><rect x="56" y="565" width="1" height="1"/><rect x="57" y="566" width="2" height="1"/><rect x="59" y="567" width="2" height="1"/><rect x="61" y="568" width="1" height="1"/><rect x="62" y="569" width="2" height="1"/><rect x="64" y="570" width="3" height="1"/><rect x="67" y="571" width="4" height="1"/><rect x="71" y="572" width="3" height="1"/><rect x="74" y="573" width="3" height="1"/><rect x="77" y="574" width="4" height="1"/><rect x="81" y="575" width="4" height="1"/><rect x="85" y="576" width="4" height="1"/><rect x="89" y="577" width="5" height="1"/><rect x="94" y="578" width="4" height="1"/><rect x="98" y="579" width="3" height="1"/><rect x="101" y="580" width="2" height="1"/><rect x="103" y="581" width="2" height="1"/><rect x="105" y="582" width="2" height="1"/><rect x="107" y="583" width="3" height="1"/><rect x="110" y="584" width="2" height="1"/><rect x="112" y="585" width="2" height="1"/><rect x="114" y="586" width="2" height="1"/><rect x="116" y="587" width="2" height="1"/><rect x="118" y="588" width="2" height="1"/><rect x="120" y="589" width="2" height="1"/><rect x="122" y="590" width="2" height="1"/><rect x="124" y="591" width="2" height="1"/><rect x="126" y="592" width="2" height="1"/><rect x="128" y="593" width="2" height="1"/><rect x="130" y="594" width="2" height="1"/><rect x="132" y="595" width="2" height="1"/><rect x="134" y="596" width="2" height="1"/><rect x="136" y="597" width="1" height="1"/><rect x="137" y="598" width="2" height="1"/><rect x="139" y="599" width="2" height="1"/><rect x="141" y="600" width="2" height="1"/><rect x="143" y="601" width="2" height="1"/><rect x="145" y="602" width="2" height="1"/><rect x="147" y="603" width="1" height="1"/><rect x="148" y="604" width="2" height="1"/><rect x="150" y="605" width="2" height="1"/><rect x="152" y="606" width="2" height="1"/><rect x="154" y="607" width="2" height="1"/><rect x="156" y="608" width="3" height="1"/><rect x="159" y="609" width="2" height="1"/><rect x="161" y="610" width="2" height="1"/><rect x="163" y="611" width="3" height="1"/><rect x="166" y="612" width="2" height="1"/><rect x="168" y="613" width="2" height="1"/><rect x="170" y="614" width="2" height="1"/><rect x="172" y="615" width="3" height="1"/><rect x="175" y="616" width="2" height="1"/><rect x="177" y="617" width="2" height="1"/><rect x="179" y="618" width="3" height="1"/><rect x="182" y="619" width="2" height="1"/><rect x="184" y="620" width="2" height="1"/><rect x="186" y="621" width="3" height="1"/><rect x="189" y="622" width="2" height="1"/><rect x="191" y="623" width="3" height="1"/><rect x="194" y="624" width="2" height="1"/><rect x="196" y="625" width="3" height="1"/><rect x="199" y="626" width="2" height="1"/><rect x="201" y="627" width="3" height="1"/><rect x="204" y="628" width="3" height="1"/><rect x="207" y="629" width="2" height="1"/><rect x="209" y="630" width="3" height="1"/><rect x="212" y="631" width="3" height="1"/><rect x="215" y="632" width="2" height="1"/><rect x="217" y="633" width="3" height="1"/><rect x="220" y="634" width="5" height="1"/><rect x="225" y="635" width="6" height="1"/><rect x="231" y="636" width="7" height="1"/><rect x="238" y="637" width="6" height="1"/><rect x="244" y="638" width="4" height="1"/><rect x="248" y="639" width="5" height="1"/><rect x="253" y="640" width="4" height="1"/><rect x="257" y="641" width="4" height="1"/><rect x="261" y="642" width="5" height="1"/><rect x="266" y="643" width="4" height="1"/><rect x="270" y="644" width="6" height="1"/><rect x="276" y="645" width="7" height="1"/><rect x="283" y="646" width="7" height="1"/><rect x="290" y="647" width="11" height="1"/><rect x="301" y="648" width="16" height="1"/><rect x="317" y="649" width="12" height="1"/><rect x="329" y="650" width="15" height="1"/><rect x="344" y="651" width="32" height="1"/><rect x="376" y="650" width="16" height="1"/><rect x="392" y="649" width="16" height="1"/><rect x="408" y="648" width="29" height="1"/><rect x="437" y="647" width="10" height="1"/><rect x="447" y="646" width="9" height="1"/><rect x="456" y="645" width="8" height="1"/><rect x="464" y="644" width="8" height="1"/><rect x="472" y="643" width="4" height="1"/><rect x="476" y="642" width="4" height="1"/><rect x="480" y="641" width="4" height="1"/><rect x="484" y="640" width="4" height="1"/><rect x="488" y="639" width="3" height="1"/><rect x="491" y="638" width="4" height="1"/><rect x="495" y="637" width="3" height="1"/><rect x="498" y="636" width="3" height="1"/><rect x="501" y="635" width="3" height="1"/><rect x="504" y="634" width="3" height="1"/><rect x="507" y="633" width="2" height="1"/><rect x="509" y="632" width="3" height="1"/><rect x="512" y="631" width="3" height="1"/><rect x="515" y="630" width="2" height="1"/><rect x="517" y="629" width="3" height="1"/><rect x="520" y="628" width="3" height="1"/><rect x="523" y="627" width="2" height="1"/><rect x="525" y="626" width="3" height="1"/><rect x="528" y="625" width="2" height="1"/><rect x="530" y="624" width="3" height="1"/><rect x="533" y="623" width="2" height="1"/><rect x="535" y="622" width="2" height="1"/><rect x="537" y="621" width="2" height="1"/><rect x="539" y="620" width="2" height="1"/><rect x="541" y="619" width="3" height="1"/><rect x="544" y="618" width="3" height="1"/><rect x="547" y="617" width="3" height="1"/><rect x="550" y="616" width="3" height="1"/><rect x="553" y="615" width="3" height="1"/><rect x="556" y="614" width="7" height="1"/><rect x="563" y="613" width="6" height="1"/><rect x="569" y="612" width="3" height="1"/><rect x="572" y="611" width="2" height="1"/><rect x="574" y="610" width="3" height="1"/><rect x="577" y="609" width="3" height="1"/><rect x="580" y="608" width="4" height="1"/><rect x="584" y="607" width="4" height="1"/><rect x="588" y="606" width="4" height="1"/><rect x="592" y="605" width="8" height="1"/><rect x="600" y="604" width="6" height="1"/><rect x="606" y="603" width="5" height="1"/><rect x="611" y="602" width="6" height="1"/><rect x="617" y="601" width="14" height="1"/><rect x="631" y="600" width="10" height="1"/><rect x="641" y="601" width="17" height="1"/><rect x="658" y="602" width="6" height="1"/><rect x="664" y="603" width="6" height="1"/><rect x="670" y="604" width="24" height="1"/><rect x="694" y="603" width="12" height="1"/><rect x="706" y="602" width="8" height="1"/><rect x="714" y="601" width="7" height="1"/><rect x="721" y="600" width="4" height="1"/><rect x="725" y="599" width="4" height="1"/><rect x="729" y="598" width="4" height="1"/><rect x="733" y="597" width="4" height="1"/><rect x="737" y="596" width="4" height="1"/><rect x="741" y="595" width="4" height="1"/><rect x="745" y="594" width="4" height="1"/><rect x="749" y="593" width="5" height="1"/><rect x="754" y="592" width="4" height="1"/><rect x="758" y="591" width="7" height="1"/><rect x="765" y="590" width="9" height="1"/><rect x="774" y="589" width="11" height="1"/><rect x="785" y="588" width="21" height="1"/><rect x="806" y="587" width="5" height="1"/><rect x="811" y="586" width="5" height="1"/><rect x="816" y="585" width="5" height="1"/><rect x="821" y="584" width="5" height="1"/><rect x="826" y="583" width="5" height="1"/><rect x="831" y="582" width="7" height="1"/><rect x="838" y="581" width="6" height="1"/><rect x="844" y="580" width="7" height="1"/><rect x="851" y="579" width="61" height="1"/><rect x="912" y="578" width="7" height="1"/><rect x="919" y="577" width="7" height="1"/><rect x="926" y="576" width="11" height="1"/><rect x="937" y="575" width="49" height="1"/><rect x="986" y="574" width="18" height="1"/><rect x="1004" y="573" width="4" height="1"/><rect x="1008" y="572" width="4" height="1"/><rect x="1012" y="571" width="4" height="1"/><rect x="1016" y="570" width="5" height="1"/><rect x="1021" y="569" width="5" height="1"/><rect x="1026" y="568" width="5" height="1"/><rect x="1031" y="567" width="4" height="1"/><rect x="1035" y="566" width="3" height="1"/><rect x="1038" y="565" width="3" height="1"/><rect x="1041" y="564" width="2" height="1"/><rect x="1043" y="563" width="3" height="1"/><rect x="1046" y="562" width="3" height="1"/><rect x="1049" y="561" width="3" height="1"/><rect x="1052" y="560" width="3" height="1"/><rect x="1055" y="559" width="2" height="1"/><rect x="1057" y="558" width="3" height="1"/><rect x="1060" y="557" width="3" height="1"/><rect x="1063" y="556" width="3" height="1"/><rect x="1066" y="555" width="2" height="1"/><rect x="1068" y="554" width="3" height="1"/><rect x="1071" y="553" width="3" height="1"/><rect x="1074" y="552" width="3" height="1"/><rect x="1077" y="551" width="3" height="1"/><rect x="1080" y="550" width="2" height="1"/><rect x="1082" y="549" width="3" height="1"/><rect x="1085" y="548" width="2" height="1"/><rect x="1087" y="547" width="3" height="1"/><rect x="1090" y="546" width="2" height="1"/><rect x="1092" y="545" width="3" height="1"/><rect x="1095" y="544" width="2" height="1"/><rect x="1097" y="543" width="2" height="1"/><rect x="1099" y="542" width="3" height="1"/><rect x="1102" y="541" width="1" height="1"/><rect x="1103" y="540" width="2" height="1"/><rect x="1105" y="539" width="2" height="1"/><rect x="1107" y="538" width="2" height="1"/><rect x="1109" y="537" width="2" height="1"/><rect x="1111" y="536" width="1" height="1"/><rect x="1112" y="535" width="2" height="1"/><rect x="1114" y="534" width="2" height="1"/><rect x="1116" y="533" width="2" height="1"/><rect x="1118" y="532" width="3" height="1"/><rect x="1121" y="531" width="3" height="1"/><rect x="1124" y="530" width="3" height="1"/><rect x="1127" y="529" width="3" height="1"/><rect x="1130" y="528" width="3" height="1"/><rect x="1133" y="527" width="4" height="1"/><rect x="1137" y="526" width="4" height="1"/><rect x="1141" y="525" width="4" height="1"/><rect x="1145" y="524" width="4" height="1"/><rect x="1149" y="523" width="3" height="1"/><rect x="1152" y="522" width="3" height="1"/><rect x="1155" y="521" width="3" height="1"/><rect x="1158" y="520" width="3" height="1"/><rect x="1161" y="519" width="3" height="1"/><rect x="1164" y="518" width="3" height="1"/><rect x="1167" y="517" width="3" height="1"/><rect x="1170" y="516" width="4" height="1"/><rect x="1174" y="515" width="4" height="1"/><rect x="1178" y="514" width="4" height="1"/><rect x="1182" y="513" width="5" height="1"/><rect x="1187" y="512" width="5" height="1"/><rect x="1192" y="511" width="5" height="1"/><rect x="1197" y="510" width="5" height="1"/><rect x="1202" y="509" width="3" height="1"/><rect x="1205" y="508" width="3" height="1"/><rect x="1208" y="507" width="4" height="1"/><rect x="1212" y="506" width="3" height="1"/><rect x="1215" y="505" width="4" height="1"/><rect x="1219" y="504" width="6" height="1"/><rect x="1225" y="503" width="5" height="1"/><rect x="1230" y="502" width="6" height="1"/><rect x="1236" y="501" width="4" height="1"/><rect x="1240" y="500" width="5" height="1"/><rect x="1245" y="499" width="5" height="1"/><rect x="1250" y="498" width="4" height="1"/><rect x="1254" y="497" width="3" height="1"/><rect x="1257" y="496" width="3" height="1"/><rect x="1260" y="495" width="3" height="1"/><rect x="1263" y="494" width="2" height="1"/><rect x="1265" y="493" width="3" height="1"/><rect x="1268" y="492" width="2" height="1"/><rect x="1270" y="491" width="3" height="1"/><rect x="1273" y="490" width="2" height="1"/><rect x="1275" y="489" width="3" height="1"/><rect x="1278" y="488" width="3" height="1"/><rect x="1281" y="487" width="2" height="1"/><rect x="1283" y="486" width="3" height="1"/><rect x="1286" y="485" width="2" height="1"/><rect x="1288" y="484" width="3" height="1"/><rect x="1291" y="483" width="2" height="1"/><rect x="1293" y="482" width="2" height="1"/><rect x="1295" y="481" width="1" height="1"/><rect x="1296" y="480" width="1" height="1"/><rect x="1297" y="479" width="2" height="1"/><rect x="1299" y="478" width="1" height="1"/><rect x="1300" y="477" width="2" height="1"/><rect x="1302" y="476" width="1" height="1"/><rect x="1303" y="475" width="2" height="1"/><rect x="1305" y="474" width="1" height="1"/><rect x="1306" y="473" width="1" height="1"/><rect x="1307" y="472" width="2" height="1"/><rect x="1309" y="471" width="2" height="1"/><rect x="1311" y="470" width="1" height="1"/><rect x="1312" y="469" width="2" height="1"/><rect x="1314" y="468" width="2" height="1"/><rect x="1316" y="467" width="2" height="1"/><rect x="1318" y="466" width="2" height="1"/><rect x="1320" y="465" width="1" height="1"/><rect x="1321" y="464" width="2" height="1"/><rect x="1323" y="463" width="2" height="1"/><rect x="1325" y="462" width="3" height="1"/><rect x="1328" y="461" width="3" height="1"/><rect x="1331" y="460" width="3" height="1"/><rect x="1334" y="459" width="3" height="1"/><rect x="1337" y="458" width="3" height="1"/><rect x="1340" y="457" width="3" height="1"/><rect x="1343" y="456" width="3" height="1"/><rect x="1346" y="455" width="3" height="1"/><rect x="1349" y="454" width="6" height="1"/><rect x="1355" y="453" width="5" height="1"/><rect x="1360" y="452" width="5" height="1"/><rect x="1365" y="451" width="6" height="1"/><rect x="1371" y="450" width="5" height="1"/><rect x="1376" y="449" width="3" height="1"/><rect x="1379" y="448" width="3" height="1"/><rect x="1382" y="447" width="3" height="1"/><rect x="1385" y="446" width="3" height="1"/><rect x="1388" y="445" width="2" height="1"/><rect x="1390" y="444" width="3" height="1"/><rect x="1393" y="443" width="3" height="1"/><rect x="1396" y="442" width="2" height="1"/><rect x="1398" y="441" width="3" height="1"/><rect x="1401" y="440" width="2" height="1"/><rect x="1403" y="439" width="3" height="1"/><rect x="1406" y="438" width="2" height="1"/><rect x="1408" y="437" width="3" height="1"/><rect x="1411" y="436" width="5" height="1"/><rect x="1416" y="435" width="4" height="1"/><rect x="1420" y="434" width="5" height="1"/><rect x="1425" y="433" width="4" height="1"/><rect x="1429" y="432" width="3" height="1"/><rect x="1432" y="431" width="4" height="1"/><rect x="1436" y="430" width="4" height="1"/><rect x="1440" y="429" width="3" height="1"/><rect x="1443" y="428" width="4" height="1"/><rect x="1447" y="427" width="4" height="1"/><rect x="1451" y="426" width="4" height="1"/><rect x="1455" y="425" width="4" height="1"/><rect x="1459" y="424" width="13" height="1"/></g>
<g shape-rendering="crispEdges">
<rect x="1236" y="238" width="389" height="1" fill="#0000ff"/>
<rect x="1236" y="329" width="389" height="1" fill="#0000ff"/>
<rect x="1236" y="357" width="389" height="1" fill="#0000ff"/>
<rect x="1236" y="385" width="389" height="1" fill="#0000ff"/>
<rect x="1236" y="476" width="389" height="1" fill="#0000ff"/>
</g>
<text x="1237" y="251" font-size="12.5" fill="#0000ff" stroke="#0000ff" stroke-width="0.25" textLength="69" lengthAdjust="spacingAndGlyphs">100,00% - 59,1</text>
<text x="1237" y="342" font-size="12.5" fill="#0000ff" stroke="#0000ff" stroke-width="0.25" textLength="76.5" lengthAdjust="spacingAndGlyphs">61,80% - 51,924</text>
<text x="1237" y="370" font-size="12.5" fill="#0000ff" stroke="#0000ff" stroke-width="0.25" textLength="76.5" lengthAdjust="spacingAndGlyphs">50,00% - 49,707</text>
<text x="1237" y="398" font-size="12.5" fill="#0000ff" stroke="#0000ff" stroke-width="0.25" textLength="75.5" lengthAdjust="spacingAndGlyphs">38,20% - 47,491</text>
<text x="1237" y="489" font-size="12.5" fill="#0000ff" stroke="#0000ff" stroke-width="0.25" textLength="70" lengthAdjust="spacingAndGlyphs">0,00% - 40,315</text>
<line x1="145.5" y1="801.5" x2="535.0" y2="454.3" stroke="#ff0000" stroke-width="3.15" stroke-linecap="round" shape-rendering="crispEdges"/>
<line x1="535.0" y1="454.3" x2="671.3" y2="676.3" stroke="#ff0000" stroke-width="3.15" stroke-linecap="round" shape-rendering="crispEdges"/>
<line x1="670.0" y1="674.5" x2="1114.5" y2="334.8" stroke="#ff0000" stroke-width="3.15" stroke-linecap="round" shape-rendering="crispEdges"/>
<line x1="1118.2" y1="335.2" x2="1240.2" y2="477.4" stroke="#ff0000" stroke-width="3.15" stroke-linecap="round" shape-rendering="crispEdges"/>
<line x1="1236.5" y1="478.3" x2="1325.5" y2="238.4" stroke="#ff0000" stroke-width="3.15" stroke-linecap="round" shape-rendering="crispEdges"/>
<line x1="1329.4" y1="237.5" x2="1472.9" y2="417.6" stroke="#ff0000" stroke-width="3.15" stroke-linecap="round" shape-rendering="crispEdges"/>
<line x1="1476.6" y1="420.2" x2="1565.4" y2="179.7" stroke="#ff0000" stroke-width="3.15" stroke-linecap="round" shape-rendering="crispEdges"/>
<text x="1472.9" y="415.3" font-size="12.5" fill="#ff0000" stroke="#ff0000" stroke-width="0.25" textLength="32" lengthAdjust="spacingAndGlyphs">44,915</text>
</g>
<g>
<rect x="1415" y="694" width="185" height="56" fill="#ffffff"/>
<g filter="url(#bl)">
<rect x="1423.3" y="721.3" width="8.6" height="19.5" rx="1.6" fill="url(#gb1)"/>
<rect x="1433.8" y="711.9" width="9.2" height="28.9" rx="1.8" fill="url(#gg)"/>
<rect x="1444.6" y="704.6" width="9.2" height="36.2" rx="1.8" fill="url(#gb2)"/>
<text transform="translate(1453.55,725.30) scale(1.2910,1)" font-size="34.90" fill="#777" stroke="#777" stroke-width="0.35">n</text>
<text transform="translate(1475.23,725.30) scale(1.1790,1)" font-size="34.90" fill="#777" stroke="#777" stroke-width="0.35">u</text>
<text transform="translate(1495.61,725.30) scale(1.3848,1)" font-size="34.90" fill="#777" stroke="#777" stroke-width="0.35">e</text>
<text transform="translate(1520.44,725.30) scale(1.3169,1)" font-size="34.90" fill="#777" stroke="#777" stroke-width="0.35">s</text>
<text transform="translate(1541.84,725.30) scale(1.3234,1)" font-size="34.90" fill="#777" stroke="#777" stroke-width="0.35">s</text>
<text transform="translate(1562.62,725.30) scale(1.3779,1)" font-size="34.90" fill="#777" stroke="#777" stroke-width="0.35">a</text>
<text transform="translate(1456.41,740.90) scale(1.6891,1)" font-size="19.20" fill="#777" stroke="#777" stroke-width="0.50">T</text>
<text transform="translate(1456.41,741.55) scale(1.6891,1)" font-size="19.20" fill="#777" stroke="#777" stroke-width="0.50">T</text>
<text transform="translate(1474.68,740.90) scale(1.5986,1)" font-size="19.20" fill="#777" stroke="#777" stroke-width="0.50">R</text>
<text transform="translate(1474.68,741.55) scale(1.5986,1)" font-size="19.20" fill="#777" stroke="#777" stroke-width="0.50">R</text>
<text transform="translate(1493.31,740.90) scale(1.9577,1)" font-size="19.20" fill="#777" stroke="#777" stroke-width="0.50">A</text>
<text transform="translate(1493.31,741.55) scale(1.9577,1)" font-size="19.20" fill="#777" stroke="#777" stroke-width="0.50">A</text>
<text transform="translate(1517.18,740.90) scale(1.7528,1)" font-size="19.20" fill="#777" stroke="#777" stroke-width="0.50">D</text>
<text transform="translate(1517.18,741.55) scale(1.7528,1)" font-size="19.20" fill="#777" stroke="#777" stroke-width="0.50">D</text>
<text transform="translate(1539.37,740.90) scale(1.7355,1)" font-size="19.20" fill="#777" stroke="#777" stroke-width="0.50">I</text>
<text transform="translate(1539.37,741.55) scale(1.7355,1)" font-size="19.20" fill="#777" stroke="#777" stroke-width="0.50">I</text>
<text transform="translate(1545.82,740.90) scale(1.8695,1)" font-size="19.20" fill="#777" stroke="#777" stroke-width="0.50">N</text>
<text transform="translate(1545.82,741.55) scale(1.8695,1)" font-size="19.20" fill="#777" stroke="#777" stroke-width="0.50">N</text>
<text transform="translate(1569.11,740.90) scale(1.5417,1)" font-size="19.20" fill="#777" stroke="#777" stroke-width="0.50">G</text>
<text transform="translate(1569.11,741.55) scale(1.5417,1)" font-size="19.20" fill="#777" stroke="#777" stroke-width="0.50">G</text>
</g></g>
<g shape-rendering="crispEdges">
<rect x="48" y="37" width="4" height="1" fill="#808080"/>
<rect x="1627" y="37" width="4" height="1" fill="#808080"/>
<rect x="48" y="100" width="4" height="1" fill="#808080"/>
<rect x="1627" y="100" width="4" height="1" fill="#808080"/>
<rect x="48" y="163" width="4" height="1" fill="#808080"/>
<rect x="1627" y="163" width="4" height="1" fill="#808080"/>
<rect x="48" y="226" width="4" height="1" fill="#808080"/>
<rect x="1627" y="226" width="4" height="1" fill="#808080"/>
<rect x="48" y="290" width="4" height="1" fill="#808080"/>
<rect x="1627" y="290" width="4" height="1" fill="#808080"/>
<rect x="48" y="353" width="4" height="1" fill="#808080"/>
<rect x="1627" y="353" width="4" height="1" fill="#808080"/>
<rect x="48" y="416" width="4" height="1" fill="#808080"/>
<rect x="1627" y="416" width="4" height="1" fill="#808080"/>
<rect x="48" y="480" width="4" height="1" fill="#808080"/>
<rect x="1627" y="480" width="4" height="1" fill="#808080"/>
<rect x="48" y="543" width="4" height="1" fill="#808080"/>
<rect x="1627" y="543" width="4" height="1" fill="#808080"/>
<rect x="48" y="606" width="4" height="1" fill="#808080"/>
<rect x="1627" y="606" width="4" height="1" fill="#808080"/>
<rect x="48" y="669" width="4" height="1" fill="#808080"/>
<rect x="1627" y="669" width="4" height="1" fill="#808080"/>
<rect x="48" y="733" width="4" height="1" fill="#808080"/>
<rect x="1627" y="733" width="4" height="1" fill="#808080"/>
<rect x="48" y="796" width="4" height="1" fill="#808080"/>
<rect x="1627" y="796" width="4" height="1" fill="#808080"/>
</g>
<text x="14" y="42" font-size="12.5" fill="#000" stroke="#000" stroke-width="0.25" textLength="32" lengthAdjust="spacingAndGlyphs">75,000</text>
<text x="1634" y="42" font-size="12.5" fill="#000" stroke="#000" stroke-width="0.25" textLength="32" lengthAdjust="spacingAndGlyphs">75,000</text>
<text x="14" y="105" font-size="12.5" fill="#000" stroke="#000" stroke-width="0.25" textLength="32" lengthAdjust="spacingAndGlyphs">70,000</text>
<text x="1634" y="105" font-size="12.5" fill="#000" stroke="#000" stroke-width="0.25" textLength="32" lengthAdjust="spacingAndGlyphs">70,000</text>
<text x="14" y="168" font-size="12.5" fill="#000" stroke="#000" stroke-width="0.25" textLength="32" lengthAdjust="spacingAndGlyphs">65,000</text>
<text x="1634" y="168" font-size="12.5" fill="#000" stroke="#000" stroke-width="0.25" textLength="32" lengthAdjust="spacingAndGlyphs">65,000</text>
<text x="14" y="231" font-size="12.5" fill="#000" stroke="#000" stroke-width="0.25" textLength="32" lengthAdjust="spacingAndGlyphs">60,000</text>
<text x="1634" y="231" font-size="12.5" fill="#000" stroke="#000" stroke-width="0.25" textLength="32" lengthAdjust="spacingAndGlyphs">60,000</text>
<text x="14" y="295" font-size="12.5" fill="#000" stroke="#000" stroke-width="0.25" textLength="32" lengthAdjust="spacingAndGlyphs">55,000</text>
<text x="1634" y="295" font-size="12.5" fill="#000" stroke="#000" stroke-width="0.25" textLength="32" lengthAdjust="spacingAndGlyphs">55,000</text>
<text x="14" y="358" font-size="12.5" fill="#000" stroke="#000" stroke-width="0.25" textLength="32" lengthAdjust="spacingAndGlyphs">50,000</text>
<text x="1634" y="358" font-size="12.5" fill="#000" stroke="#000" stroke-width="0.25" textLength="32" lengthAdjust="spacingAndGlyphs">50,000</text>
<text x="14" y="421" font-size="12.5" fill="#000" stroke="#000" stroke-width="0.25" textLength="32" lengthAdjust="spacingAndGlyphs">45,000</text>
<text x="1634" y="421" font-size="12.5" fill="#000" stroke="#000" stroke-width="0.25" textLength="32" lengthAdjust="spacingAndGlyphs">45,000</text>
<text x="14" y="485" font-size="12.5" fill="#000" stroke="#000" stroke-width="0.25" textLength="32" lengthAdjust="spacingAndGlyphs">40,000</text>
<text x="1634" y="485" font-size="12.5" fill="#000" stroke="#000" stroke-width="0.25" textLength="32" lengthAdjust="spacingAndGlyphs">40,000</text>
<text x="14" y="548" font-size="12.5" fill="#000" stroke="#000" stroke-width="0.25" textLength="32" lengthAdjust="spacingAndGlyphs">35,000</text>
<text x="1634" y="548" font-size="12.5" fill="#000" stroke="#000" stroke-width="0.25" textLength="32" lengthAdjust="spacingAndGlyphs">35,000</text>
<text x="14" y="611" font-size="12.5" fill="#000" stroke="#000" stroke-width="0.25" textLength="32" lengthAdjust="spacingAndGlyphs">30,000</text>
<text x="1634" y="611" font-size="12.5" fill="#000" stroke="#000" stroke-width="0.25" textLength="32" lengthAdjust="spacingAndGlyphs">30,000</text>
<text x="14" y="674" font-size="12.5" fill="#000" stroke="#000" stroke-width="0.25" textLength="32" lengthAdjust="spacingAndGlyphs">25,000</text>
<text x="1634" y="674" font-size="12.5" fill="#000" stroke="#000" stroke-width="0.25" textLength="32" lengthAdjust="spacingAndGlyphs">25,000</text>
<text x="14" y="738" font-size="12.5" fill="#000" stroke="#000" stroke-width="0.25" textLength="32" lengthAdjust="spacingAndGlyphs">20,000</text>
<text x="1634" y="738" font-size="12.5" fill="#000" stroke="#000" stroke-width="0.25" textLength="32" lengthAdjust="spacingAndGlyphs">20,000</text>
<text x="14" y="801" font-size="12.5" fill="#000" stroke="#000" stroke-width="0.25" textLength="32" lengthAdjust="spacingAndGlyphs">15,000</text>
<text x="1634" y="801" font-size="12.5" fill="#000" stroke="#000" stroke-width="0.25" textLength="32" lengthAdjust="spacingAndGlyphs">15,000</text>
<text x="32.5" y="14" font-size="12.5" fill="#000" stroke="#000" stroke-width="0.25" textLength="7" lengthAdjust="spacingAndGlyphs">€</text>
<text x="1629" y="14" font-size="12.5" fill="#000" stroke="#000" stroke-width="0.25" textLength="7" lengthAdjust="spacingAndGlyphs">€</text>
<g shape-rendering="crispEdges">
<rect x="62" y="848" width="1" height="4" fill="#000"/>
<rect x="109" y="848" width="1" height="4" fill="#000"/>
<rect x="155" y="848" width="1" height="4" fill="#000"/>
<rect x="202" y="848" width="1" height="4" fill="#000"/>
<rect x="248" y="848" width="1" height="4" fill="#000"/>
<rect x="295" y="848" width="1" height="4" fill="#000"/>
<rect x="341" y="848" width="1" height="4" fill="#000"/>
<rect x="388" y="848" width="1" height="4" fill="#000"/>
<rect x="434" y="848" width="1" height="4" fill="#000"/>
<rect x="481" y="848" width="1" height="4" fill="#000"/>
<rect x="527" y="848" width="1" height="4" fill="#000"/>
<rect x="574" y="848" width="1" height="4" fill="#000"/>
<rect x="620" y="848" width="1" height="4" fill="#000"/>
<rect x="667" y="848" width="1" height="4" fill="#000"/>
<rect x="714" y="848" width="1" height="4" fill="#000"/>
<rect x="760" y="848" width="1" height="4" fill="#000"/>
<rect x="807" y="848" width="1" height="4" fill="#000"/>
<rect x="857" y="848" width="1" height="4" fill="#000"/>
<rect x="903" y="848" width="1" height="4" fill="#000"/>
<rect x="950" y="848" width="1" height="4" fill="#000"/>
<rect x="996" y="848" width="1" height="4" fill="#000"/>
<rect x="1043" y="848" width="1" height="4" fill="#000"/>
<rect x="1089" y="848" width="1" height="4" fill="#000"/>
<rect x="1136" y="848" width="1" height="4" fill="#000"/>
<rect x="1182" y="848" width="1" height="4" fill="#000"/>
<rect x="1229" y="848" width="1" height="4" fill="#000"/>
<rect x="1275" y="848" width="1" height="4" fill="#000"/>
<rect x="1322" y="848" width="1" height="4" fill="#000"/>
<rect x="1368" y="848" width="1" height="4" fill="#000"/>
<rect x="1415" y="848" width="1" height="4" fill="#000"/>
<rect x="1461" y="848" width="1" height="4" fill="#000"/>
<rect x="1508" y="848" width="1" height="4" fill="#000"/>
<rect x="1555" y="848" width="1" height="4" fill="#000"/>
<rect x="1601" y="848" width="1" height="4" fill="#000"/>
</g>
<text x="64" y="861" font-size="12.5" fill="#000" stroke="#000" stroke-width="0.25" textLength="13.3" lengthAdjust="spacingAndGlyphs">Jul</text>
<text x="112" y="861" font-size="12.5" fill="#000" stroke="#000" stroke-width="0.25" textLength="16.2" lengthAdjust="spacingAndGlyphs">Okt</text>
<text x="158" y="861" font-size="12.5" fill="#000" stroke="#000" stroke-width="0.25" textLength="23.3" lengthAdjust="spacingAndGlyphs">2009</text>
<text x="204" y="861" font-size="12.5" fill="#000" stroke="#000" stroke-width="0.25" textLength="15.7" lengthAdjust="spacingAndGlyphs">Apr</text>
<text x="250" y="861" font-size="12.5" fill="#000" stroke="#000" stroke-width="0.25" textLength="13.3" lengthAdjust="spacingAndGlyphs">Jul</text>
<text x="298" y="861" font-size="12.5" fill="#000" stroke="#000" stroke-width="0.25" textLength="16.2" lengthAdjust="spacingAndGlyphs">Okt</text>
<text x="344" y="861" font-size="12.5" fill="#000" stroke="#000" stroke-width="0.25" textLength="23.3" lengthAdjust="spacingAndGlyphs">2010</text>
<text x="390" y="861" font-size="12.5" fill="#000" stroke="#000" stroke-width="0.25" textLength="15.7" lengthAdjust="spacingAndGlyphs">Apr</text>
<text x="436" y="861" font-size="12.5" fill="#000" stroke="#000" stroke-width="0.25" textLength="13.3" lengthAdjust="spacingAndGlyphs">Jul</text>
<text x="484" y="861" font-size="12.5" fill="#000" stroke="#000" stroke-width="0.25" textLength="16.2" lengthAdjust="spacingAndGlyphs">Okt</text>
<text x="530" y="861" font-size="12.5" fill="#000" stroke="#000" stroke-width="0.25" textLength="23.3" lengthAdjust="spacingAndGlyphs">2011</text>
<text x="576" y="861" font-size="12.5" fill="#000" stroke="#000" stroke-width="0.25" textLength="15.7" lengthAdjust="spacingAndGlyphs">Apr</text>
<text x="622" y="861" font-size="12.5" fill="#000" stroke="#000" stroke-width="0.25" textLength="13.3" lengthAdjust="spacingAndGlyphs">Jul</text>
<text x="670" y="861" font-size="12.5" fill="#000" stroke="#000" stroke-width="0.25" textLength="16.2" lengthAdjust="spacingAndGlyphs">Okt</text>
<text x="717" y="861" font-size="12.5" fill="#000" stroke="#000" stroke-width="0.25" textLength="23.3" lengthAdjust="spacingAndGlyphs">2012</text>
<text x="762" y="861" font-size="12.5" fill="#000" stroke="#000" stroke-width="0.25" textLength="15.7" lengthAdjust="spacingAndGlyphs">Apr</text>
<text x="809" y="861" font-size="12.5" fill="#000" stroke="#000" stroke-width="0.25" textLength="13.3" lengthAdjust="spacingAndGlyphs">Jul</text>
<text x="860" y="861" font-size="12.5" fill="#000" stroke="#000" stroke-width="0.25" textLength="16.2" lengthAdjust="spacingAndGlyphs">Okt</text>
<text x="906" y="861" font-size="12.5" fill="#000" stroke="#000" stroke-width="0.25" textLength="23.3" lengthAdjust="spacingAndGlyphs">2013</text>
<text x="952" y="861" font-size="12.5" fill="#000" stroke="#000" stroke-width="0.25" textLength="15.7" lengthAdjust="spacingAndGlyphs">Apr</text>
<text x="998" y="861" font-size="12.5" fill="#000" stroke="#000" stroke-width="0.25" textLength="13.3" lengthAdjust="spacingAndGlyphs">Jul</text>
<text x="1046" y="861" font-size="12.5" fill="#000" stroke="#000" stroke-width="0.25" textLength="16.2" lengthAdjust="spacingAndGlyphs">Okt</text>
<text x="1092" y="861" font-size="12.5" fill="#000" stroke="#000" stroke-width="0.25" textLength="23.3" lengthAdjust="spacingAndGlyphs">2014</text>
<text x="1138" y="861" font-size="12.5" fill="#000" stroke="#000" stroke-width="0.25" textLength="15.7" lengthAdjust="spacingAndGlyphs">Apr</text>
<text x="1184" y="861" font-size="12.5" fill="#000" stroke="#000" stroke-width="0.25" textLength="13.3" lengthAdjust="spacingAndGlyphs">Jul</text>
<text x="1232" y="861" font-size="12.5" fill="#000" stroke="#000" stroke-width="0.25" textLength="16.2" lengthAdjust="spacingAndGlyphs">Okt</text>
<text x="1278" y="861" font-size="12.5" fill="#000" stroke="#000" stroke-width="0.25" textLength="23.3" lengthAdjust="spacingAndGlyphs">2015</text>
<text x="1324" y="861" font-size="12.5" fill="#000" stroke="#000" stroke-width="0.25" textLength="15.7" lengthAdjust="spacingAndGlyphs">Apr</text>
<text x="1370" y="861" font-size="12.5" fill="#000" stroke="#000" stroke-width="0.25" textLength="13.3" lengthAdjust="spacingAndGlyphs">Jul</text>
<text x="1418" y="861" font-size="12.5" fill="#000" stroke="#000" stroke-width="0.25" textLength="16.2" lengthAdjust="spacingAndGlyphs">Okt</text>
<text x="1464" y="861" font-size="12.5" fill="#000" stroke="#000" stroke-width="0.25" textLength="23.3" lengthAdjust="spacingAndGlyphs">2016</text>
<text x="1510" y="861" font-size="12.5" fill="#000" stroke="#000" stroke-width="0.25" textLength="15.7" lengthAdjust="spacingAndGlyphs">Apr</text>
<text x="1557" y="861" font-size="12.5" fill="#000" stroke="#000" stroke-width="0.25" textLength="13.3" lengthAdjust="spacingAndGlyphs">Jul</text>
<text x="1604" y="861" font-size="12.5" fill="#000" stroke="#000" stroke-width="0.25" textLength="16.2" lengthAdjust="spacingAndGlyphs">Okt</text>
<text x="71" y="15" font-size="12.5" fill="#000" stroke="#000" stroke-width="0.25" textLength="294.5" lengthAdjust="spacingAndGlyphs" xml:space="preserve">A.SPRINGER SE VNA [SPR GER  Wöchentlich] 24.01.2016 -</text>
<text x="368.4" y="15" font-size="12.5" fill="#ff0000" stroke="#ff0000" stroke-width="0.25" textLength="44" lengthAdjust="spacingAndGlyphs" xml:space="preserve">O:46,425</text>
<text x="415.3" y="15" font-size="12.5" fill="#000" stroke="#000" stroke-width="0.25" textLength="43.5" lengthAdjust="spacingAndGlyphs" xml:space="preserve">H:46,425</text>
<text x="463" y="15" font-size="12.5" fill="#000" stroke="#000" stroke-width="0.25" textLength="41" lengthAdjust="spacingAndGlyphs" xml:space="preserve">L:44,915</text>
<text x="507.7" y="15" font-size="12.5" fill="#ff0000" stroke="#ff0000" stroke-width="0.25" textLength="42" lengthAdjust="spacingAndGlyphs" xml:space="preserve">C:45,630</text>
<text x="553.9" y="15" font-size="12.5" fill="#ff0000" stroke="#ff0000" stroke-width="0.25" textLength="28.5" lengthAdjust="spacingAndGlyphs" xml:space="preserve">-0,870</text>
<text x="587" y="15" font-size="12.5" fill="#ff0000" stroke="#ff0000" stroke-width="0.25" textLength="36.7" lengthAdjust="spacingAndGlyphs" xml:space="preserve">-1,871%</text>
<text x="71.6" y="30" font-size="12.5" fill="#000" stroke="#000" stroke-width="0.25" textLength="207" lengthAdjust="spacingAndGlyphs" xml:space="preserve">Moving Average Exponential(2) [Close, 100]</text>
<text x="281.9" y="30" font-size="12.5" fill="#808000" stroke="#808000" stroke-width="0.25" textLength="31.7" lengthAdjust="spacingAndGlyphs" xml:space="preserve">48,434</text>
<text x="318.1" y="30" font-size="12.5" fill="#ff0000" stroke="#ff0000" stroke-width="0.25" textLength="29" lengthAdjust="spacingAndGlyphs" xml:space="preserve">-0,057</text>
<text x="351" y="30" font-size="12.5" fill="#ff0000" stroke="#ff0000" stroke-width="0.25" textLength="36.8" lengthAdjust="spacingAndGlyphs" xml:space="preserve">-0,117%</text>
<text x="392.3" y="30" font-size="12.5" fill="#000" stroke="#000" stroke-width="0.25" textLength="55" lengthAdjust="spacingAndGlyphs" xml:space="preserve">{SPR GER}</text>
<text x="71.6" y="45" font-size="12.5" fill="#000" stroke="#000" stroke-width="0.25" textLength="207" lengthAdjust="spacingAndGlyphs" xml:space="preserve">Moving Average Exponential(3) [Close, 200]</text>
<text x="281.9" y="45" font-size="12.5" fill="#008000" stroke="#008000" stroke-width="0.25" textLength="30.6" lengthAdjust="spacingAndGlyphs" xml:space="preserve">44,391</text>
<text x="318.1" y="45" font-size="12.5" fill="#00b400" stroke="#00b400" stroke-width="0.25" textLength="31.7" lengthAdjust="spacingAndGlyphs" xml:space="preserve">+0,012</text>
<text x="354" y="45" font-size="12.5" fill="#00b400" stroke="#00b400" stroke-width="0.25" textLength="39.4" lengthAdjust="spacingAndGlyphs" xml:space="preserve">+0,028%</text>
<text x="398.3" y="45" font-size="12.5" fill="#000" stroke="#000" stroke-width="0.25" textLength="55" lengthAdjust="spacingAndGlyphs" xml:space="preserve">{SPR GER}</text>
<text x="57.8" y="60" font-size="10.8" fill="#000">©</text>
<text x="69.7" y="61" font-size="12.5" fill="#000" stroke="#000" stroke-width="0.25" textLength="128.3" lengthAdjust="spacingAndGlyphs" xml:space="preserve">www.tradesignalonline.com</text>
<g shape-rendering="crispEdges" fill="#000">
<rect x="63" y="5" width="1" height="12"/><rect x="60" y="8" width="6" height="1"/><rect x="60" y="13" width="6" height="1"/><rect x="60" y="8" width="1" height="6"/><rect x="65" y="8" width="1" height="6"/><rect x="61" y="9" width="4" height="4" fill="#fff"/>
</g>
<path d="M57.3 28.8 L60.6 23.8 Q61.6 22.6 62.6 23.8 L65 28.9 Q66 30.4 67 28.9 L68.7 25.6" fill="none" stroke="#000" stroke-width="1.1"/>
<path d="M57.3 43.8 L60.6 38.8 Q61.6 37.6 62.6 38.8 L65 43.9 Q66 45.4 67 43.9 L68.7 40.6" fill="none" stroke="#000" stroke-width="1.1"/>
</svg></body></html>
